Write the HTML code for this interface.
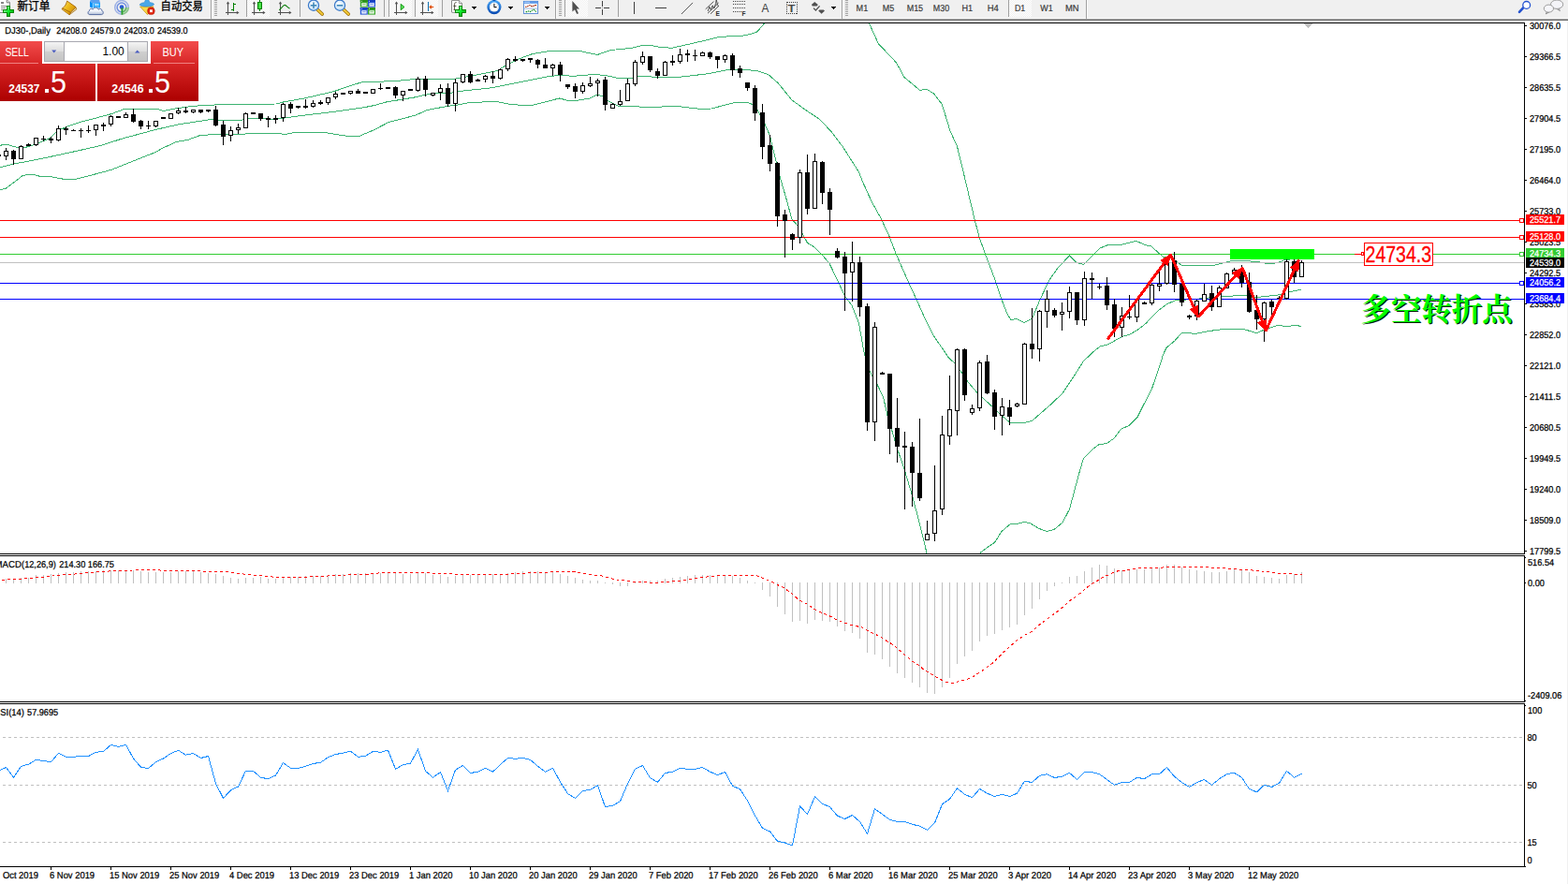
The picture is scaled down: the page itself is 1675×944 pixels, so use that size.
<!DOCTYPE html><html><head><meta charset="utf-8"><title>DJ30 Daily</title><style>html,body{margin:0;padding:0;background:#fff;overflow:hidden}svg{display:block}text{font-family:"Liberation Sans",sans-serif;white-space:pre}</style></head><body>
<svg width="1675" height="944" viewBox="0 0 1675 944" shape-rendering="crispEdges" font-family="Liberation Sans, sans-serif">
<rect x="0" y="0" width="1675" height="944" fill="#fff"/>
<defs><pattern id="chk" width="2" height="2" patternUnits="userSpaceOnUse"><rect width="2" height="2" fill="#fff"/><rect width="1" height="1" fill="#f0f0f0"/><rect x="1" y="1" width="1" height="1" fill="#f0f0f0"/></pattern><linearGradient id="gold" x1="0" y1="0" x2="1" y2="1"><stop offset="0" stop-color="#fff0a0"/><stop offset="0.5" stop-color="#e8b820"/><stop offset="1" stop-color="#b07000"/></linearGradient><linearGradient id="plus" x1="0" y1="0" x2="0" y2="1"><stop offset="0" stop-color="#70ff80"/><stop offset="0.5" stop-color="#10f030"/><stop offset="1" stop-color="#08b018"/></linearGradient><linearGradient id="plush" x1="0" y1="0" x2="1" y2="0"><stop offset="0" stop-color="#80ff90"/><stop offset="0.45" stop-color="#10f030"/><stop offset="1" stop-color="#08c018"/></linearGradient><radialGradient id="lens" cx="0.4" cy="0.35" r="0.7"><stop offset="0" stop-color="#ffffff"/><stop offset="1" stop-color="#b8dcf8"/></radialGradient><linearGradient id="clk" x1="0" y1="0" x2="0" y2="1"><stop offset="0" stop-color="#48a8f8"/><stop offset="1" stop-color="#0848b0"/></linearGradient></defs>
<rect x="0" y="0" width="1675" height="19" fill="#f0f0f0"/>
<rect x="0" y="19" width="1675" height="1" fill="#f8f8f8"/>
<rect x="0" y="20" width="1675" height="1" fill="#a8a8a8"/>
<rect x="0" y="21" width="1675" height="1" fill="#666"/>
<g shape-rendering="auto">
<path d="M-1,-1 H7.2 L10.4,2.8 V13.4 H-1 Z" fill="#fff" stroke="#6e6e6e" stroke-width="0.9"/>
<path d="M7.2,-1 V2.8 H10.4" fill="#f0f0f0" stroke="#6e6e6e" stroke-width="0.9"/>
<rect x="1" y="2" width="3" height="2" fill="#858585"/><rect x="1" y="6" width="6" height="1" fill="#8a8a8a"/><rect x="1" y="8" width="5" height="1" fill="#8a8a8a"/><rect x="1" y="10" width="3" height="1" fill="#8a8a8a"/>
</g>
<g shape-rendering="crispEdges">
<rect x="7" y="6" width="4" height="12" fill="#088808"/><rect x="3" y="10" width="12" height="4" fill="#088808"/>
<rect x="8" y="7" width="2" height="10" fill="url(#plus)"/><rect x="4" y="11" width="10" height="2" fill="url(#plush)"/>
</g>
<g shape-rendering="auto">
<text x="18.4" y="11.2" font-size="12" fill="#000" stroke="#000" stroke-width="0.3" textLength="35.2" lengthAdjust="spacingAndGlyphs" style="font-family:'Liberation Sans','Noto Sans CJK SC',sans-serif">新订单</text>
<defs><linearGradient id="gold2" x1="0" y1="0" x2="1" y2="0.6"><stop offset="0" stop-color="#fff8b8"/><stop offset="0.45" stop-color="#f0c020"/><stop offset="1" stop-color="#d89808"/></linearGradient><linearGradient id="cloud" x1="0" y1="0" x2="0" y2="1"><stop offset="0" stop-color="#ffffff"/><stop offset="0.5" stop-color="#f0f4fa"/><stop offset="1" stop-color="#aebcd4"/></linearGradient></defs>
<path d="M75.4,13.1 L81,7.6 L81.8,9.9 L74.1,15.8 Z" fill="#e8d8a0" stroke="#a06810" stroke-width="0.8"/>
<path d="M66.6,8.9 L75.4,13.1 L74.1,15.8 L66.1,9.9 Z" fill="url(#gold2)" stroke="#a86808" stroke-width="0.8"/>
<path d="M71.7,1.1 L81,7.6 L75.4,13.1 L66.6,8.9 C69,7.4 70.4,5.4 71.7,1.1 Z" fill="url(#gold2)" stroke="#a86808" stroke-width="0.9"/>
<path d="M96,1.3 L97.1,-0.5 H106 L107,3 L99.1,3.6 Z" fill="#5aa0f0"/>
<path d="M96,1.3 L99.1,3.6 V8.8 L96,7.6 Z" fill="#0490f8"/>
<path d="M99.1,3.6 L107,3 V8.6 H99.1 Z" fill="#1aa2ff"/>
<path d="M99.4,3.6 V8.8" stroke="#d8f0ff" stroke-width="0.7"/>
<rect x="101" y="4.3" width="4.6" height="1.3" fill="#e4f6ff"/><rect x="101" y="6.3" width="4.6" height="1.6" fill="#58bcff"/>
<path d="M95.8,15.6 C93.5,15.6 93.5,12 95.5,11.6 C95.3,9.3 98,8.6 99.2,10.2 C100,7.5 104.4,7.3 105.2,10.2 C106.4,8.8 109.3,9.4 108.9,11.6 C110.9,12 110.7,15.6 108.4,15.6 Z" fill="url(#cloud)" stroke="#48609a" stroke-width="0.9"/>
<defs><clipPath id="q4"><rect x="130" y="7.9" width="9" height="9"/></clipPath><clipPath id="q123"><path d="M120,-2 H140 V7.9 H130 V18 H120 Z"/></clipPath></defs>
<circle cx="130" cy="7.9" r="7.3" fill="none" stroke="#3a66d8" stroke-width="1.5" opacity="0.45" clip-path="url(#q123)"/>
<circle cx="130" cy="7.9" r="7.3" fill="none" stroke="#48a048" stroke-width="1.5" opacity="0.6" clip-path="url(#q4)"/>
<circle cx="130" cy="7.9" r="4.9" fill="none" stroke="#3a66d8" stroke-width="1.5" opacity="0.7" clip-path="url(#q123)"/>
<circle cx="130" cy="7.9" r="4.9" fill="none" stroke="#48a048" stroke-width="1.5" opacity="0.85" clip-path="url(#q4)"/>
<path d="M130,7.9 L137.3,7.9 A7.3,7.3 0 0 1 130,15.2 Z" fill="#70c070" opacity="0.35"/>
<circle cx="130" cy="7.6" r="2.3" fill="#2a5ad4"/>
<rect x="129.5" y="8.4" width="1.8" height="7.2" fill="#28a028"/>
<path d="M149.6,7 L164,7 L157.5,15.6 Z" fill="#f8d848" stroke="#c89810" stroke-width="0.8"/>
<path d="M149.2,5.2 C150,2.8 153.4,3.2 154.4,2.4 L155.6,-0.5 H158.6 L159.8,2.4 C161,3.2 164.2,2.6 164.6,4.8 C162,7.6 152,7.8 149.2,5.2 Z" fill="#4aa8e8" stroke="#2a80c8" stroke-width="0.6"/>
<circle cx="161.4" cy="11.7" r="3.9" fill="#e02810" stroke="#b01808" stroke-width="0.5"/><rect x="160" y="10.3" width="2.8" height="2.8" fill="#fff"/>
<text x="171.6" y="11.2" font-size="12" fill="#000" stroke="#000" stroke-width="0.3" textLength="45.2" lengthAdjust="spacingAndGlyphs" style="font-family:'Liberation Sans','Noto Sans CJK SC',sans-serif">自动交易</text>
</g>
<rect x="225" y="0" width="1" height="20" fill="#a0a0a0"/><rect x="226" y="0" width="1" height="19" fill="#fff"/>
<rect x="229" y="0" width="3" height="1" fill="#a4a4a4"/>
<rect x="229" y="2" width="3" height="1" fill="#a4a4a4"/>
<rect x="229" y="4" width="3" height="1" fill="#a4a4a4"/>
<rect x="229" y="6" width="3" height="1" fill="#a4a4a4"/>
<rect x="229" y="8" width="3" height="1" fill="#a4a4a4"/>
<rect x="229" y="10" width="3" height="1" fill="#a4a4a4"/>
<rect x="229" y="12" width="3" height="1" fill="#a4a4a4"/>
<rect x="229" y="14" width="3" height="1" fill="#a4a4a4"/>
<rect x="229" y="16" width="3" height="1" fill="#a4a4a4"/>
<rect x="263" y="0" width="1" height="18" fill="#a0a0a0"/>
<rect x="264" y="0" width="24" height="18" fill="url(#chk)"/>
<rect x="320" y="0" width="1" height="18" fill="#a0a0a0"/>
<rect x="410" y="0" width="1" height="18" fill="#a0a0a0"/>
<rect x="415" y="0" width="1" height="18" fill="#a0a0a0"/>
<rect x="416" y="0" width="24" height="18" fill="url(#chk)"/>
<rect x="443" y="0" width="1" height="18" fill="#a0a0a0"/>
<rect x="444" y="0" width="24" height="18" fill="url(#chk)"/>
<rect x="472" y="0" width="1" height="18" fill="#a0a0a0"/>
<rect x="593" y="0" width="1" height="20" fill="#a0a0a0"/><rect x="594" y="0" width="1" height="19" fill="#fff"/>
<rect x="597" y="0" width="3" height="1" fill="#a4a4a4"/>
<rect x="597" y="2" width="3" height="1" fill="#a4a4a4"/>
<rect x="597" y="4" width="3" height="1" fill="#a4a4a4"/>
<rect x="597" y="6" width="3" height="1" fill="#a4a4a4"/>
<rect x="597" y="8" width="3" height="1" fill="#a4a4a4"/>
<rect x="597" y="10" width="3" height="1" fill="#a4a4a4"/>
<rect x="597" y="12" width="3" height="1" fill="#a4a4a4"/>
<rect x="597" y="14" width="3" height="1" fill="#a4a4a4"/>
<rect x="597" y="16" width="3" height="1" fill="#a4a4a4"/>
<rect x="603" y="0" width="1" height="18" fill="#a0a0a0"/>
<rect x="604" y="0" width="24" height="18" fill="url(#chk)"/>
<rect x="660" y="0" width="1" height="18" fill="#a0a0a0"/>
<rect x="899" y="0" width="1" height="20" fill="#a0a0a0"/><rect x="900" y="0" width="1" height="19" fill="#fff"/>
<rect x="903" y="0" width="3" height="1" fill="#a4a4a4"/>
<rect x="903" y="2" width="3" height="1" fill="#a4a4a4"/>
<rect x="903" y="4" width="3" height="1" fill="#a4a4a4"/>
<rect x="903" y="6" width="3" height="1" fill="#a4a4a4"/>
<rect x="903" y="8" width="3" height="1" fill="#a4a4a4"/>
<rect x="903" y="10" width="3" height="1" fill="#a4a4a4"/>
<rect x="903" y="12" width="3" height="1" fill="#a4a4a4"/>
<rect x="903" y="14" width="3" height="1" fill="#a4a4a4"/>
<rect x="903" y="16" width="3" height="1" fill="#a4a4a4"/>
<rect x="1077" y="0" width="1" height="18" fill="#a0a0a0"/>
<rect x="1078" y="0" width="24" height="18" fill="url(#chk)"/>
<rect x="1160" y="0" width="1" height="20" fill="#a0a0a0"/><rect x="1161" y="0" width="1" height="19" fill="#fff"/>
<rect x="243" y="3" width="1" height="13" fill="#505050"/><rect x="241" y="13" width="13" height="1" fill="#505050"/>
<polygon points="243.5,1.5 241.8,4.2 245.2,4.2" fill="#505050" shape-rendering="auto"/>
<polygon points="255.5,13.5 252.8,11.8 252.8,15.2" fill="#505050" shape-rendering="auto"/>
<rect x="249" y="3" width="1" height="9" fill="#008000"/><rect x="249" y="4" width="3" height="1" fill="#008000"/><rect x="247" y="10" width="3" height="1" fill="#008000"/>
<rect x="271" y="3" width="1" height="13" fill="#505050"/><rect x="269" y="13" width="13" height="1" fill="#505050"/>
<polygon points="271.5,1.5 269.8,4.2 273.2,4.2" fill="#505050" shape-rendering="auto"/>
<polygon points="283.5,13.5 280.8,11.8 280.8,15.2" fill="#505050" shape-rendering="auto"/>
<rect x="277" y="0" width="1" height="12" fill="#008000"/><rect x="275.5" y="2.5" width="4" height="7" fill="#48e048" stroke="#008000" stroke-width="1" shape-rendering="auto"/>
<rect x="299" y="3" width="1" height="13" fill="#505050"/><rect x="297" y="13" width="13" height="1" fill="#505050"/>
<polygon points="299.5,1.5 297.8,4.2 301.2,4.2" fill="#505050" shape-rendering="auto"/>
<polygon points="311.5,13.5 308.8,11.8 308.8,15.2" fill="#505050" shape-rendering="auto"/>
<path d="M298.3,10.7 C301,8.5 302.5,5.2 304.2,5.4 C306,5.6 307.5,8.5 309.6,9" fill="none" stroke="#108010" stroke-width="1.1" shape-rendering="auto"/>
<g shape-rendering="auto">
<path d="M338.6,9.7 L344.2,15" stroke="#9a6a00" stroke-width="3.6" stroke-linecap="round"/>
<path d="M338.6,9.7 L344.2,15" stroke="#f0c838" stroke-width="2.2" stroke-linecap="round"/>
<circle cx="335" cy="5.7" r="5.6" fill="url(#lens)" stroke="#3a78c8" stroke-width="1.2"/>
<rect x="331.8" y="5" width="6.4" height="1.6" fill="#4088b8"/>
<rect x="334.2" y="2.5" width="1.6" height="6.4" fill="#4088b8"/>
</g>
<g shape-rendering="auto">
<path d="M366.6,9.7 L372.2,15" stroke="#9a6a00" stroke-width="3.6" stroke-linecap="round"/>
<path d="M366.6,9.7 L372.2,15" stroke="#f0c838" stroke-width="2.2" stroke-linecap="round"/>
<circle cx="363" cy="5.7" r="5.6" fill="url(#lens)" stroke="#3a78c8" stroke-width="1.2"/>
<rect x="359.8" y="5" width="6.4" height="1.6" fill="#4088b8"/>
</g>
<g shape-rendering="auto">
<rect x="384.8" y="0" width="8" height="7.6" fill="#38a828"/><rect x="384.8" y="0" width="8" height="2" fill="#2a9018"/>
<rect x="386.2" y="3.2" width="5.4" height="3.4" fill="#fff" opacity="0.92"/><rect x="387.2" y="4.2" width="3.4" height="0.9" fill="#38a828" opacity="0.6"/><rect x="385.8" y="0.8" width="1" height="1" fill="#fff" opacity="0.8"/>
<rect x="393" y="0" width="8" height="7.6" fill="#2858d8"/><rect x="393" y="0" width="8" height="2" fill="#1840c0"/>
<rect x="394.4" y="3.2" width="5.4" height="3.4" fill="#fff" opacity="0.92"/><rect x="395.4" y="4.2" width="3.4" height="0.9" fill="#2858d8" opacity="0.6"/><rect x="394" y="0.8" width="1" height="1" fill="#fff" opacity="0.8"/>
<rect x="384.8" y="8" width="8" height="7.6" fill="#2858d8"/><rect x="384.8" y="8" width="8" height="2" fill="#1840c0"/>
<rect x="386.2" y="11.2" width="5.4" height="3.4" fill="#fff" opacity="0.92"/><rect x="387.2" y="12.2" width="3.4" height="0.9" fill="#2858d8" opacity="0.6"/><rect x="385.8" y="8.8" width="1" height="1" fill="#fff" opacity="0.8"/>
<rect x="393" y="8" width="8" height="7.6" fill="#38a828"/><rect x="393" y="8" width="8" height="2" fill="#2a9018"/>
<rect x="394.4" y="11.2" width="5.4" height="3.4" fill="#fff" opacity="0.92"/><rect x="395.4" y="12.2" width="3.4" height="0.9" fill="#38a828" opacity="0.6"/><rect x="394" y="8.8" width="1" height="1" fill="#fff" opacity="0.8"/>
</g>
<rect x="423" y="3" width="1" height="13" fill="#505050"/><rect x="421" y="13" width="13" height="1" fill="#505050"/>
<polygon points="423.5,1.5 421.8,4.2 425.2,4.2" fill="#505050" shape-rendering="auto"/>
<polygon points="435.5,13.5 432.8,11.8 432.8,15.2" fill="#505050" shape-rendering="auto"/>
<polygon points="428.2,4.3 432,7.5 428.2,10.7" fill="#58e058" stroke="#089008" stroke-width="0.9" shape-rendering="auto"/>
<rect x="451" y="3" width="1" height="13" fill="#505050"/><rect x="449" y="13" width="13" height="1" fill="#505050"/>
<polygon points="451.5,1.5 449.8,4.2 453.2,4.2" fill="#505050" shape-rendering="auto"/>
<polygon points="463.5,13.5 460.8,11.8 460.8,15.2" fill="#505050" shape-rendering="auto"/>
<rect x="457" y="2" width="1" height="10" fill="#1070b0"/>
<g shape-rendering="auto"><rect x="459" y="7" width="4.2" height="1" fill="#e04800"/><polygon points="458.2,7.5 461,5.2 461,9.8" fill="#e04800"/></g>
<g shape-rendering="auto">
<path d="M483,0.4 H490.4 L493.5,3.5 V13.3 H483 Q482.5,13.3 482.5,12.8 V0.9 Q482.5,0.4 483,0.4 Z" fill="#fff" stroke="#7c7c7c" stroke-width="0.9"/><path d="M490.4,0.4 V3.5 H493.5" fill="#f4f4f4" stroke="#7c7c7c" stroke-width="0.8"/>
<path d="M487.6,2.6 C486,2.7 485.4,3.4 485.4,4.6 V10.6 M484.4,6.4 H487.4 M484.6,10.6 H486" fill="none" stroke="#454030" stroke-width="0.9"/>
<g shape-rendering="crispEdges">
<rect x="490" y="6" width="4" height="12" fill="#088808"/><rect x="486" y="10" width="12" height="4" fill="#088808"/>
<rect x="491" y="7" width="2" height="10" fill="url(#plus)"/><rect x="487" y="11" width="10" height="2" fill="url(#plush)"/>
</g>
</g>
<rect x="504" y="7" width="5" height="1" fill="#000"/><rect x="505" y="8" width="3" height="1" fill="#000"/><rect x="506" y="9" width="1" height="1" fill="#000"/>
<g shape-rendering="auto">
<circle cx="527.9" cy="7.6" r="7.6" fill="url(#clk)"/><rect x="526.4" y="-1" width="3" height="2" fill="#1058b8"/>
<circle cx="527.9" cy="7.6" r="5" fill="#fff"/>
<path d="M527.9,7.8 V4 M527.7,7.6 H530.6" stroke="#202020" stroke-width="1.1" fill="none"/>
<circle cx="527.90" cy="3.30" r="0.35" fill="#888"/>
<circle cx="530.05" cy="3.88" r="0.35" fill="#888"/>
<circle cx="531.62" cy="5.45" r="0.35" fill="#888"/>
<circle cx="532.20" cy="7.60" r="0.35" fill="#888"/>
<circle cx="531.62" cy="9.75" r="0.35" fill="#888"/>
<circle cx="530.05" cy="11.32" r="0.35" fill="#888"/>
<circle cx="527.90" cy="11.90" r="0.35" fill="#888"/>
<circle cx="525.75" cy="11.32" r="0.35" fill="#888"/>
<circle cx="524.18" cy="9.75" r="0.35" fill="#888"/>
<circle cx="523.60" cy="7.60" r="0.35" fill="#888"/>
<circle cx="524.18" cy="5.45" r="0.35" fill="#888"/>
<circle cx="525.75" cy="3.88" r="0.35" fill="#888"/>
</g>
<rect x="543" y="7" width="5" height="1" fill="#000"/><rect x="544" y="8" width="3" height="1" fill="#000"/><rect x="545" y="9" width="1" height="1" fill="#000"/>
<g shape-rendering="auto">
<rect x="559.4" y="1.4" width="15.2" height="13" fill="#fff" stroke="#4a80d0" stroke-width="0.9"/><rect x="559.4" y="1.4" width="15.2" height="2.4" fill="#5c98e8"/><rect x="560" y="1.8" width="6" height="0.8" fill="#c8e0ff"/>
<rect x="559.4" y="8.7" width="15.2" height="0.8" fill="#88a8d8"/>
<path d="M561,7.2 H563.2 L564.8,5.8 H566.6 L567.6,6.6 H569.6 L571,5.6 H573" fill="none" stroke="#a02000" stroke-width="1.1" stroke-dasharray="1.6 0.7"/>
<path d="M561.6,12.6 H563.4 L564.8,11.8 L566.4,12.6 L569.4,10.4 H570.4 L573,12.8" fill="none" stroke="#109020" stroke-width="1.1" stroke-dasharray="1.6 0.7"/>
</g>
<rect x="582" y="7" width="5" height="1" fill="#000"/><rect x="583" y="8" width="3" height="1" fill="#000"/><rect x="584" y="9" width="1" height="1" fill="#000"/>
<path d="M611.4,1 V12.6 L614,10.2 L616.2,15 L618,14.2 L615.8,9.6 L619,9.4 Z" fill="#505050" shape-rendering="auto"/>
<rect x="643" y="1" width="1" height="6" fill="#404040"/><rect x="643" y="10" width="1" height="6" fill="#404040"/><rect x="636" y="8" width="6" height="1" fill="#404040"/><rect x="645" y="8" width="6" height="1" fill="#404040"/><rect x="643" y="8" width="1" height="1" fill="#909090"/>
<rect x="677" y="2" width="1" height="13" fill="#404040"/>
<rect x="700" y="8" width="12" height="1" fill="#404040"/>
<g shape-rendering="auto" stroke="#404040" fill="none">
<path d="M727.9,15 L740,2.9" stroke-width="0.9"/>
<path d="M753.7,9.8 L762.4,1.6 M756,14.2 L767.6,3 M759,14.8 L768,6.2" stroke-width="0.9"/>
<path d="M756.2,12 L757.8,7.2 L759.4,10.6 L761.2,5.8 L762.8,9 L764.6,3.6 L765.2,-0.5 L766.4,4.6 L767.4,6.8" stroke-width="0.9"/>
</g>
<text x="764.6" y="16.8" font-size="6.6" font-weight="bold" fill="#303030">E</text>
<line x1="783" y1="1.5" x2="796.4" y2="1.5" stroke="#404040" stroke-width="1" stroke-dasharray="1 1"/>
<line x1="783" y1="4.5" x2="796.4" y2="4.5" stroke="#404040" stroke-width="1" stroke-dasharray="1 1"/>
<line x1="783" y1="8.5" x2="796.4" y2="8.5" stroke="#404040" stroke-width="1" stroke-dasharray="1 1"/>
<line x1="783" y1="12.5" x2="792.4" y2="12.5" stroke="#404040" stroke-width="1" stroke-dasharray="1 1"/>
<text x="792.6" y="16.8" font-size="6.6" font-weight="bold" fill="#303030">F</text>
<text x="813.6" y="13.3" font-size="13" fill="#404040" textLength="7.9" lengthAdjust="spacingAndGlyphs">A</text>
<rect x="840.5" y="2.5" width="11" height="12" fill="none" stroke="#404040" stroke-width="1" stroke-dasharray="1 1"/>
<rect x="839.5" y="1.5" width="2" height="1.4" fill="#404040"/>
<text x="841.6" y="13.3" font-size="11.4" font-weight="bold" fill="#484848" textLength="8" lengthAdjust="spacingAndGlyphs">T</text>
<g shape-rendering="auto" fill="#505050">
<polygon points="870.2,2 873.8,5 872.6,6.4 867.9,6.4 866.9,5"/>
<path d="M869,8.6 L871.4,11 L875.6,6.4" fill="none" stroke="#505050" stroke-width="1.3"/>
<polygon points="877.6,14.8 881,11.6 879.8,10.6 875.4,10.6 874.2,11.6"/>
</g>
<rect x="888" y="7" width="5" height="1" fill="#000"/><rect x="889" y="8" width="3" height="1" fill="#000"/><rect x="890" y="9" width="1" height="1" fill="#000"/>
<text x="914.6" y="12" font-size="10" fill="#383838" stroke="#383838" stroke-width="0.2" text-rendering="geometricPrecision" textLength="12.6" lengthAdjust="spacingAndGlyphs">M1</text>
<text x="942.8" y="12" font-size="10" fill="#383838" stroke="#383838" stroke-width="0.2" text-rendering="geometricPrecision" textLength="12.4" lengthAdjust="spacingAndGlyphs">M5</text>
<text x="968.7" y="12" font-size="10" fill="#383838" stroke="#383838" stroke-width="0.2" text-rendering="geometricPrecision" textLength="17.4" lengthAdjust="spacingAndGlyphs">M15</text>
<text x="996.8" y="12" font-size="10" fill="#383838" stroke="#383838" stroke-width="0.2" text-rendering="geometricPrecision" textLength="17.3" lengthAdjust="spacingAndGlyphs">M30</text>
<text x="1027.5" y="12" font-size="10" fill="#383838" stroke="#383838" stroke-width="0.2" text-rendering="geometricPrecision" textLength="11.7" lengthAdjust="spacingAndGlyphs">H1</text>
<text x="1054.7" y="12" font-size="10" fill="#383838" stroke="#383838" stroke-width="0.2" text-rendering="geometricPrecision" textLength="12.1" lengthAdjust="spacingAndGlyphs">H4</text>
<text x="1083.9" y="12" font-size="10" fill="#383838" stroke="#383838" stroke-width="0.2" text-rendering="geometricPrecision" textLength="11.3" lengthAdjust="spacingAndGlyphs">D1</text>
<text x="1111.3" y="12" font-size="10" fill="#383838" stroke="#383838" stroke-width="0.2" text-rendering="geometricPrecision" textLength="13.4" lengthAdjust="spacingAndGlyphs">W1</text>
<text x="1137.9" y="12" font-size="10" fill="#383838" stroke="#383838" stroke-width="0.2" text-rendering="geometricPrecision" textLength="14.6" lengthAdjust="spacingAndGlyphs">MN</text>
<g shape-rendering="auto">
<path d="M1627.4,8.2 L1623,12.9" stroke="#2452d0" stroke-width="2.6" stroke-linecap="round"/>
<circle cx="1630.7" cy="5.4" r="3.9" fill="#fff" stroke="#2452d0" stroke-width="1.3"/>
<path d="M1665.4,9 L1666.4,11.6 L1662.6,9.2" fill="#e8e8f0" stroke="#808080" stroke-width="0.8"/>
<ellipse cx="1663.1" cy="4.7" rx="6.6" ry="4.7" fill="#f4f4f8" stroke="#909090" stroke-width="0.9"/>
<path d="M1652.6,12.4 L1651.4,14.8 L1655,12.9" fill="#e8e8f0" stroke="#707070" stroke-width="0.8"/>
<ellipse cx="1654.4" cy="9.1" rx="5.1" ry="4" fill="#f6f6fa" stroke="#909090" stroke-width="0.9"/>
</g>
<rect x="0" y="24" width="1629" height="1" fill="#000"/>
<rect x="1628" y="24" width="1" height="568" fill="#000"/>
<rect x="0" y="591" width="1629" height="1" fill="#000"/>
<rect x="0" y="593" width="1629" height="1" fill="#000"/>
<rect x="1628" y="593" width="1" height="157" fill="#000"/>
<rect x="0" y="749" width="1629" height="1" fill="#000"/>
<rect x="0" y="751" width="1629" height="1" fill="#000"/>
<rect x="1628" y="751" width="1" height="175" fill="#000"/>
<rect x="0" y="925" width="1630" height="1" fill="#000"/>
<rect x="1674" y="22" width="1" height="922" fill="#f0f0f0"/>
<rect x="1393" y="25" width="9" height="1" fill="#c0c0c0"/>
<rect x="1394" y="26" width="7" height="1" fill="#c0c0c0"/>
<rect x="1395" y="27" width="5" height="1" fill="#c0c0c0"/>
<rect x="1396" y="28" width="3" height="1" fill="#c0c0c0"/>
<rect x="1397" y="29" width="1" height="1" fill="#c0c0c0"/>
<g clip-path="url(#cm)">
<defs><clipPath id="cm"><rect x="0" y="25" width="1628" height="566"/></clipPath></defs>
<polyline points="0,155.2 7.2,154.3 17.9,157.3 27.5,157.3 39.4,153.7 53.7,147.2 62.1,139.4 71.6,135.2 83.6,131 101.5,126.3 119.4,121.5 133.7,116.1 167.2,116.1 174.3,118.5 186.3,116.1 200,114.1 212.5,112.9 230.6,111.9 250,111.3 262.5,111.3 295,111 302.5,109 325,105 356.3,97.8 375,91.3 387.5,87.5 400,87.5 425,86.3 443.8,84.4 481.3,85 495,82.5 512.5,79.4 531.3,75.6 540,70 553.8,63.1 568.8,57.5 587.5,54.4 600,54.4 618.8,54.4 638.1,58.5 652.5,53.5 675,51.3 686.3,48.5 696.3,48.5 702.5,50 717.5,51.3 737.5,46.9 768.8,39.4 793.8,38.1 805,35.6 809,33.8 816.5,25" fill="none" stroke="#3cb371" stroke-width="1" />
<polyline points="928.5,25 938.3,46.6 951,60 957.5,66.9 966,82.5 982.5,96.3 990,95.3 997.5,100 1006.3,111.3 1015,140 1022.5,156.3 1030,187.5 1041.3,235 1046.3,253.8 1052.5,271.3 1062.5,297.5 1070,320 1076.3,336 1080,341.6 1086,340.3 1094,344.4 1102.5,340.3 1111,320 1121,298.8 1130,286.3 1142.5,272.8 1150,280.6 1157.5,282.3 1165,275 1175,265 1182.5,262 1198.8,261 1213.8,257.3 1222.5,261.3 1230,263.1 1237.5,270 1242.5,274.4 1252.5,276.3 1262.5,283.5 1296,283.5 1315,278.8 1327.5,278.1 1346,280 1355,281.9 1365,280.6 1372.5,277.5 1390,276" fill="none" stroke="#3cb371" stroke-width="1" />
<polyline points="0,178.8 14.3,175.2 47.8,168.7 83.6,160.9 107.5,155.5 131.3,147.8 167.2,138.2 191,132.8 200,131.5 225,127.5 237.5,128.4 258.8,128.1 267.5,126.5 295,127.3 306.3,125.6 325,123.1 356.3,119.4 387.5,115 400,112.5 412.5,109 443.8,103.8 462.5,99.4 481.3,99.4 490,97.5 525,93.8 556.3,87.5 587.5,81.3 600,80.4 612.5,81.3 635,79.4 647.5,80.6 660,83.5 671.3,83.8 685,81.3 700,82.3 725,82.3 756.3,78.8 775,75 793.8,74 800,74.8 810,76 821,79.8 831,88.5 846,106.9 862.5,118.8 875,126.9 887.5,140 900,156.3 907.5,168 917.5,183.8 922.5,196.3 931,215 941,233 950,252.5 957.5,271.9 971,302.5 978.8,319.4 988,340 997.5,358.8 1013.8,382.5 1019.4,387.5 1027.5,398.1 1033.8,407.5 1043.8,419.4 1058.8,433.1 1067.5,441.3 1078.8,451.3 1093.8,451.5 1102.5,449.4 1122.5,431.9 1135,420 1147.5,401.3 1157.5,385.6 1170,373.8 1176,369.4 1182.5,368.5 1198.8,359.4 1206,357.5 1215,352.5 1223.8,345.6 1236.2,332.5 1246.2,325 1255,321 1267.5,320 1283.8,318.8 1307.5,316.3 1331,315.6 1342.5,317.5 1365,315 1377.5,311.9 1390,309" fill="none" stroke="#3cb371" stroke-width="1" />
<polyline points="0,202.7 6,201.5 23.9,187.8 29.9,186.2 34.6,186.2 43,188.4 56.1,189 68.1,191.3 81.2,191.3 101.5,186 119.4,181.2 143.3,171.6 167.2,162.1 173.1,158.5 188.7,151.3 200,149.6 212.5,145 231.3,143.1 256.3,143.8 267.5,142.3 296.3,142.3 303.8,143.5 315,141.5 346.3,141.5 371.3,145.4 383.8,145.4 400,138.5 415,130.6 443.8,123.1 456.3,117.5 477.5,113.5 490,111.9 502.5,109.4 530,108.5 547.5,111.9 568.8,112.3 597.5,105 600,105.6 606.3,107.3 616.3,107.3 630,105 637.5,101.3 643.8,102.5 650,108.1 660,113.1 681.3,113.5 686.3,114.8 703.8,114.8 708.8,113.5 720,113.1 747.5,116.3 760,116 785,109.4 795,109.4 800,110 803.8,111.5 808.8,116.9 816,130 822.5,145 825.6,158.8 829.4,173.8 832.5,186.3 840,212.5 846,234.4 852.5,241.3 857.5,250 862.5,259.4 870,263.8 877.5,271.3 886,281.3 895,300 902.5,316.3 910,326.3 917.5,345 923,376.3 929.4,396.9 932,401.9 937.5,411.3 943.8,425 948,443.8 952.5,458.8 958.8,480 966,501 973.8,527 980,550 985,570 990,590.6" fill="none" stroke="#3cb371" stroke-width="1" />
<polyline points="1046.9,590.6 1055,584.4 1062.5,579.4 1070,567.5 1078.8,560 1086,559.4 1094,557.5 1100,558.5 1110,564.4 1118,567.5 1126,565.6 1135,558 1142.5,543.8 1147.5,525 1152.5,506.3 1157.5,489.4 1167.5,479.4 1173.8,474.8 1182.5,473.5 1190,468.1 1197.5,458.1 1206.2,454.4 1215,445.6 1221.2,433.1 1230,416.3 1237.5,395 1242.5,378.8 1246,371.3 1255,363.8 1262.5,355.3 1277.5,356.3 1290,353.8 1307.5,351.3 1327.5,351.3 1342.5,355.6 1352.5,351.3 1365,347.5 1375,348.5 1383.8,347.3 1390,348.5" fill="none" stroke="#3cb371" stroke-width="1" />
<rect x="0" y="280" width="1628" height="1" fill="#c0c0c0"/>
<rect x="0" y="235" width="1628" height="1" fill="#f00"/>
<rect x="1623.5" y="233.5" width="4" height="4" fill="#fff" stroke="#f00" stroke-width="1"/>
<rect x="0" y="253" width="1628" height="1" fill="#f00"/>
<rect x="1623.5" y="251.5" width="4" height="4" fill="#fff" stroke="#f00" stroke-width="1"/>
<rect x="0" y="271" width="1628" height="1" fill="#32cd32"/>
<rect x="1623.5" y="269.5" width="4" height="4" fill="#fff" stroke="#32cd32" stroke-width="1"/>
<rect x="0" y="302" width="1628" height="1" fill="#00f"/>
<rect x="1623.5" y="300.5" width="4" height="4" fill="#fff" stroke="#00f" stroke-width="1"/>
<rect x="0" y="319" width="1628" height="1" fill="#00f"/>
<rect x="-2" y="165" width="1" height="2" fill="#000"/>
<rect x="-4" y="165" width="5" height="2" fill="#000"/>
<rect x="6" y="158" width="1" height="13" fill="#000"/>
<rect x="4" y="161" width="5" height="6" fill="#000"/>
<rect x="5" y="162" width="3" height="4" fill="#fff"/>
<rect x="14" y="160" width="1" height="16" fill="#000"/>
<rect x="12" y="161" width="5" height="9" fill="#000"/>
<rect x="22" y="155" width="1" height="15" fill="#000"/>
<rect x="20" y="156" width="5" height="14" fill="#000"/>
<rect x="21" y="157" width="3" height="12" fill="#fff"/>
<rect x="30" y="153" width="1" height="3" fill="#000"/>
<rect x="28" y="154" width="5" height="2" fill="#000"/>
<rect x="38" y="147" width="1" height="9" fill="#000"/>
<rect x="36" y="147" width="5" height="8" fill="#000"/>
<rect x="37" y="148" width="3" height="6" fill="#fff"/>
<rect x="46" y="145" width="1" height="6" fill="#000"/>
<rect x="44" y="148" width="5" height="1" fill="#000"/>
<rect x="54" y="146" width="1" height="7" fill="#000"/>
<rect x="52" y="148" width="5" height="2" fill="#000"/>
<rect x="62" y="134" width="1" height="17" fill="#000"/>
<rect x="60" y="137" width="5" height="13" fill="#000"/>
<rect x="61" y="138" width="3" height="11" fill="#fff"/>
<rect x="70" y="135" width="1" height="9" fill="#000"/>
<rect x="68" y="137" width="5" height="2" fill="#000"/>
<rect x="78" y="138" width="1" height="2" fill="#000"/>
<rect x="76" y="139" width="5" height="1" fill="#000"/>
<rect x="86" y="137" width="1" height="10" fill="#000"/>
<rect x="84" y="139" width="5" height="1" fill="#000"/>
<rect x="94" y="134" width="1" height="8" fill="#000"/>
<rect x="92" y="139" width="5" height="1" fill="#000"/>
<rect x="102" y="133" width="1" height="12" fill="#000"/>
<rect x="100" y="133" width="5" height="6" fill="#000"/>
<rect x="101" y="134" width="3" height="4" fill="#fff"/>
<rect x="110" y="131" width="1" height="9" fill="#000"/>
<rect x="108" y="133" width="5" height="2" fill="#000"/>
<rect x="118" y="123" width="1" height="12" fill="#000"/>
<rect x="116" y="124" width="5" height="9" fill="#000"/>
<rect x="117" y="125" width="3" height="7" fill="#fff"/>
<rect x="126" y="124" width="1" height="2" fill="#000"/>
<rect x="124" y="124" width="5" height="2" fill="#000"/>
<rect x="134" y="120" width="1" height="6" fill="#000"/>
<rect x="132" y="122" width="5" height="4" fill="#000"/>
<rect x="133" y="123" width="3" height="2" fill="#fff"/>
<rect x="142" y="116" width="1" height="15" fill="#000"/>
<rect x="140" y="122" width="5" height="8" fill="#000"/>
<rect x="150" y="128" width="1" height="10" fill="#000"/>
<rect x="148" y="129" width="5" height="6" fill="#000"/>
<rect x="158" y="129" width="1" height="9" fill="#000"/>
<rect x="156" y="134" width="5" height="1" fill="#000"/>
<rect x="166" y="129" width="1" height="7" fill="#000"/>
<rect x="164" y="129" width="5" height="6" fill="#000"/>
<rect x="165" y="130" width="3" height="4" fill="#fff"/>
<rect x="174" y="125" width="1" height="2" fill="#000"/>
<rect x="172" y="125" width="5" height="2" fill="#000"/>
<rect x="182" y="121" width="1" height="6" fill="#000"/>
<rect x="180" y="121" width="5" height="6" fill="#000"/>
<rect x="181" y="122" width="3" height="4" fill="#fff"/>
<rect x="190" y="115" width="1" height="7" fill="#000"/>
<rect x="188" y="118" width="5" height="3" fill="#000"/>
<rect x="189" y="119" width="3" height="1" fill="#fff"/>
<rect x="198" y="114" width="1" height="7" fill="#000"/>
<rect x="196" y="118" width="5" height="2" fill="#000"/>
<rect x="206" y="117" width="1" height="4" fill="#000"/>
<rect x="204" y="117" width="5" height="3" fill="#000"/>
<rect x="205" y="118" width="3" height="1" fill="#fff"/>
<rect x="214" y="117" width="1" height="4" fill="#000"/>
<rect x="212" y="117" width="5" height="3" fill="#000"/>
<rect x="222" y="117" width="1" height="3" fill="#000"/>
<rect x="220" y="117" width="5" height="2" fill="#000"/>
<rect x="230" y="113" width="1" height="22" fill="#000"/>
<rect x="228" y="117" width="5" height="17" fill="#000"/>
<rect x="238" y="129" width="1" height="26" fill="#000"/>
<rect x="236" y="133" width="5" height="13" fill="#000"/>
<rect x="246" y="135" width="1" height="16" fill="#000"/>
<rect x="244" y="139" width="5" height="6" fill="#000"/>
<rect x="245" y="140" width="3" height="4" fill="#fff"/>
<rect x="254" y="132" width="1" height="11" fill="#000"/>
<rect x="252" y="136" width="5" height="3" fill="#000"/>
<rect x="253" y="137" width="3" height="1" fill="#fff"/>
<rect x="262" y="120" width="1" height="17" fill="#000"/>
<rect x="260" y="121" width="5" height="16" fill="#000"/>
<rect x="261" y="122" width="3" height="14" fill="#fff"/>
<rect x="270" y="120" width="1" height="2" fill="#000"/>
<rect x="268" y="120" width="5" height="2" fill="#000"/>
<rect x="278" y="121" width="1" height="8" fill="#000"/>
<rect x="276" y="121" width="5" height="6" fill="#000"/>
<rect x="286" y="124" width="1" height="12" fill="#000"/>
<rect x="284" y="126" width="5" height="2" fill="#000"/>
<rect x="294" y="123" width="1" height="9" fill="#000"/>
<rect x="292" y="126" width="5" height="2" fill="#000"/>
<rect x="302" y="110" width="1" height="20" fill="#000"/>
<rect x="300" y="111" width="5" height="15" fill="#000"/>
<rect x="301" y="112" width="3" height="13" fill="#fff"/>
<rect x="310" y="109" width="1" height="12" fill="#000"/>
<rect x="308" y="111" width="5" height="5" fill="#000"/>
<rect x="318" y="113" width="1" height="3" fill="#000"/>
<rect x="316" y="113" width="5" height="2" fill="#000"/>
<rect x="326" y="106" width="1" height="10" fill="#000"/>
<rect x="324" y="113" width="5" height="2" fill="#000"/>
<rect x="334" y="107" width="1" height="8" fill="#000"/>
<rect x="332" y="110" width="5" height="4" fill="#000"/>
<rect x="333" y="111" width="3" height="2" fill="#fff"/>
<rect x="342" y="107" width="1" height="5" fill="#000"/>
<rect x="340" y="109" width="5" height="2" fill="#000"/>
<rect x="350" y="104" width="1" height="8" fill="#000"/>
<rect x="348" y="104" width="5" height="6" fill="#000"/>
<rect x="349" y="105" width="3" height="4" fill="#fff"/>
<rect x="358" y="98" width="1" height="8" fill="#000"/>
<rect x="356" y="100" width="5" height="4" fill="#000"/>
<rect x="357" y="101" width="3" height="2" fill="#fff"/>
<rect x="366" y="99" width="1" height="2" fill="#000"/>
<rect x="364" y="99" width="5" height="2" fill="#000"/>
<rect x="374" y="97" width="1" height="4" fill="#000"/>
<rect x="372" y="97" width="5" height="3" fill="#000"/>
<rect x="373" y="98" width="3" height="1" fill="#fff"/>
<rect x="382" y="95" width="1" height="5" fill="#000"/>
<rect x="380" y="97" width="5" height="3" fill="#000"/>
<rect x="390" y="98" width="1" height="2" fill="#000"/>
<rect x="388" y="98" width="5" height="2" fill="#000"/>
<rect x="398" y="95" width="1" height="5" fill="#000"/>
<rect x="396" y="95" width="5" height="5" fill="#000"/>
<rect x="397" y="96" width="3" height="3" fill="#fff"/>
<rect x="406" y="89" width="1" height="7" fill="#000"/>
<rect x="404" y="94" width="5" height="1" fill="#000"/>
<rect x="414" y="93" width="1" height="2" fill="#000"/>
<rect x="412" y="93" width="5" height="2" fill="#000"/>
<rect x="422" y="92" width="1" height="13" fill="#000"/>
<rect x="420" y="93" width="5" height="9" fill="#000"/>
<rect x="430" y="97" width="1" height="11" fill="#000"/>
<rect x="428" y="97" width="5" height="5" fill="#000"/>
<rect x="429" y="98" width="3" height="3" fill="#fff"/>
<rect x="438" y="95" width="1" height="2" fill="#000"/>
<rect x="436" y="95" width="5" height="2" fill="#000"/>
<rect x="446" y="82" width="1" height="16" fill="#000"/>
<rect x="444" y="84" width="5" height="13" fill="#000"/>
<rect x="445" y="85" width="3" height="11" fill="#fff"/>
<rect x="454" y="81" width="1" height="22" fill="#000"/>
<rect x="452" y="84" width="5" height="12" fill="#000"/>
<rect x="462" y="99" width="1" height="4" fill="#000"/>
<rect x="460" y="99" width="5" height="3" fill="#000"/>
<rect x="461" y="100" width="3" height="1" fill="#fff"/>
<rect x="470" y="90" width="1" height="17" fill="#000"/>
<rect x="468" y="94" width="5" height="5" fill="#000"/>
<rect x="469" y="95" width="3" height="3" fill="#fff"/>
<rect x="478" y="89" width="1" height="25" fill="#000"/>
<rect x="476" y="94" width="5" height="17" fill="#000"/>
<rect x="486" y="84" width="1" height="35" fill="#000"/>
<rect x="484" y="88" width="5" height="23" fill="#000"/>
<rect x="485" y="89" width="3" height="21" fill="#fff"/>
<rect x="494" y="79" width="1" height="10" fill="#000"/>
<rect x="492" y="79" width="5" height="9" fill="#000"/>
<rect x="493" y="80" width="3" height="7" fill="#fff"/>
<rect x="502" y="76" width="1" height="13" fill="#000"/>
<rect x="500" y="79" width="5" height="9" fill="#000"/>
<rect x="510" y="84" width="1" height="3" fill="#000"/>
<rect x="508" y="85" width="5" height="2" fill="#000"/>
<rect x="518" y="80" width="1" height="8" fill="#000"/>
<rect x="516" y="81" width="5" height="4" fill="#000"/>
<rect x="517" y="82" width="3" height="2" fill="#fff"/>
<rect x="526" y="76" width="1" height="13" fill="#000"/>
<rect x="524" y="81" width="5" height="3" fill="#000"/>
<rect x="534" y="73" width="1" height="12" fill="#000"/>
<rect x="532" y="74" width="5" height="10" fill="#000"/>
<rect x="533" y="75" width="3" height="8" fill="#fff"/>
<rect x="542" y="62" width="1" height="14" fill="#000"/>
<rect x="540" y="63" width="5" height="11" fill="#000"/>
<rect x="541" y="64" width="3" height="9" fill="#fff"/>
<rect x="550" y="60" width="1" height="6" fill="#000"/>
<rect x="548" y="63" width="5" height="2" fill="#000"/>
<rect x="558" y="63" width="1" height="3" fill="#000"/>
<rect x="556" y="63" width="5" height="2" fill="#000"/>
<rect x="566" y="62" width="1" height="5" fill="#000"/>
<rect x="564" y="62" width="5" height="2" fill="#000"/>
<rect x="574" y="63" width="1" height="10" fill="#000"/>
<rect x="572" y="64" width="5" height="5" fill="#000"/>
<rect x="582" y="62" width="1" height="11" fill="#000"/>
<rect x="580" y="69" width="5" height="4" fill="#000"/>
<rect x="590" y="68" width="1" height="13" fill="#000"/>
<rect x="588" y="69" width="5" height="4" fill="#000"/>
<rect x="589" y="70" width="3" height="2" fill="#fff"/>
<rect x="598" y="66" width="1" height="21" fill="#000"/>
<rect x="596" y="69" width="5" height="11" fill="#000"/>
<rect x="606" y="90" width="1" height="5" fill="#000"/>
<rect x="604" y="90" width="5" height="3" fill="#000"/>
<rect x="614" y="89" width="1" height="16" fill="#000"/>
<rect x="612" y="92" width="5" height="6" fill="#000"/>
<rect x="622" y="88" width="1" height="12" fill="#000"/>
<rect x="620" y="91" width="5" height="7" fill="#000"/>
<rect x="621" y="92" width="3" height="5" fill="#fff"/>
<rect x="630" y="82" width="1" height="11" fill="#000"/>
<rect x="628" y="89" width="5" height="3" fill="#000"/>
<rect x="629" y="90" width="3" height="1" fill="#fff"/>
<rect x="638" y="84" width="1" height="19" fill="#000"/>
<rect x="636" y="86" width="5" height="3" fill="#000"/>
<rect x="637" y="87" width="3" height="1" fill="#fff"/>
<rect x="646" y="82" width="1" height="36" fill="#000"/>
<rect x="644" y="85" width="5" height="27" fill="#000"/>
<rect x="654" y="110" width="1" height="6" fill="#000"/>
<rect x="652" y="111" width="5" height="5" fill="#000"/>
<rect x="653" y="112" width="3" height="3" fill="#fff"/>
<rect x="662" y="96" width="1" height="17" fill="#000"/>
<rect x="660" y="108" width="5" height="4" fill="#000"/>
<rect x="661" y="109" width="3" height="2" fill="#fff"/>
<rect x="670" y="84" width="1" height="24" fill="#000"/>
<rect x="668" y="89" width="5" height="19" fill="#000"/>
<rect x="669" y="90" width="3" height="17" fill="#fff"/>
<rect x="678" y="64" width="1" height="28" fill="#000"/>
<rect x="676" y="66" width="5" height="24" fill="#000"/>
<rect x="677" y="67" width="3" height="22" fill="#fff"/>
<rect x="686" y="55" width="1" height="14" fill="#000"/>
<rect x="684" y="60" width="5" height="7" fill="#000"/>
<rect x="685" y="61" width="3" height="5" fill="#fff"/>
<rect x="694" y="60" width="1" height="17" fill="#000"/>
<rect x="692" y="60" width="5" height="15" fill="#000"/>
<rect x="702" y="73" width="1" height="11" fill="#000"/>
<rect x="700" y="76" width="5" height="5" fill="#000"/>
<rect x="710" y="65" width="1" height="16" fill="#000"/>
<rect x="708" y="66" width="5" height="15" fill="#000"/>
<rect x="709" y="67" width="3" height="13" fill="#fff"/>
<rect x="718" y="59" width="1" height="11" fill="#000"/>
<rect x="716" y="65" width="5" height="2" fill="#000"/>
<rect x="726" y="52" width="1" height="16" fill="#000"/>
<rect x="724" y="58" width="5" height="8" fill="#000"/>
<rect x="725" y="59" width="3" height="6" fill="#fff"/>
<rect x="734" y="53" width="1" height="13" fill="#000"/>
<rect x="732" y="57" width="5" height="2" fill="#000"/>
<rect x="742" y="53" width="1" height="12" fill="#000"/>
<rect x="740" y="59" width="5" height="1" fill="#000"/>
<rect x="750" y="55" width="1" height="5" fill="#000"/>
<rect x="748" y="56" width="5" height="4" fill="#000"/>
<rect x="749" y="57" width="3" height="2" fill="#fff"/>
<rect x="758" y="55" width="1" height="8" fill="#000"/>
<rect x="756" y="56" width="5" height="5" fill="#000"/>
<rect x="766" y="60" width="1" height="13" fill="#000"/>
<rect x="764" y="60" width="5" height="4" fill="#000"/>
<rect x="774" y="58" width="1" height="9" fill="#000"/>
<rect x="772" y="59" width="5" height="5" fill="#000"/>
<rect x="773" y="60" width="3" height="3" fill="#fff"/>
<rect x="782" y="57" width="1" height="24" fill="#000"/>
<rect x="780" y="59" width="5" height="16" fill="#000"/>
<rect x="790" y="70" width="1" height="13" fill="#000"/>
<rect x="788" y="73" width="5" height="5" fill="#000"/>
<rect x="798" y="88" width="1" height="9" fill="#000"/>
<rect x="796" y="88" width="5" height="6" fill="#000"/>
<rect x="806" y="91" width="1" height="38" fill="#000"/>
<rect x="804" y="94" width="5" height="27" fill="#000"/>
<rect x="814" y="111" width="1" height="59" fill="#000"/>
<rect x="812" y="120" width="5" height="37" fill="#000"/>
<rect x="822" y="144" width="1" height="39" fill="#000"/>
<rect x="820" y="155" width="5" height="20" fill="#000"/>
<rect x="830" y="173" width="1" height="69" fill="#000"/>
<rect x="828" y="174" width="5" height="57" fill="#000"/>
<rect x="838" y="224" width="1" height="51" fill="#000"/>
<rect x="836" y="229" width="5" height="7" fill="#000"/>
<rect x="846" y="249" width="1" height="18" fill="#000"/>
<rect x="844" y="250" width="5" height="6" fill="#000"/>
<rect x="854" y="181" width="1" height="79" fill="#000"/>
<rect x="852" y="184" width="5" height="70" fill="#000"/>
<rect x="853" y="185" width="3" height="68" fill="#fff"/>
<rect x="862" y="165" width="1" height="64" fill="#000"/>
<rect x="860" y="184" width="5" height="39" fill="#000"/>
<rect x="870" y="164" width="1" height="59" fill="#000"/>
<rect x="868" y="172" width="5" height="51" fill="#000"/>
<rect x="869" y="173" width="3" height="49" fill="#fff"/>
<rect x="878" y="172" width="1" height="46" fill="#000"/>
<rect x="876" y="173" width="5" height="33" fill="#000"/>
<rect x="886" y="201" width="1" height="50" fill="#000"/>
<rect x="884" y="205" width="5" height="19" fill="#000"/>
<rect x="894" y="265" width="1" height="11" fill="#000"/>
<rect x="892" y="268" width="5" height="7" fill="#000"/>
<rect x="902" y="269" width="1" height="63" fill="#000"/>
<rect x="900" y="274" width="5" height="18" fill="#000"/>
<rect x="910" y="258" width="1" height="64" fill="#000"/>
<rect x="908" y="280" width="5" height="11" fill="#000"/>
<rect x="909" y="281" width="3" height="9" fill="#fff"/>
<rect x="918" y="274" width="1" height="64" fill="#000"/>
<rect x="916" y="280" width="5" height="48" fill="#000"/>
<rect x="926" y="324" width="1" height="136" fill="#000"/>
<rect x="924" y="327" width="5" height="124" fill="#000"/>
<rect x="934" y="344" width="1" height="127" fill="#000"/>
<rect x="932" y="349" width="5" height="102" fill="#000"/>
<rect x="933" y="350" width="3" height="100" fill="#fff"/>
<rect x="942" y="397" width="1" height="3" fill="#000"/>
<rect x="940" y="398" width="5" height="2" fill="#000"/>
<rect x="950" y="399" width="1" height="86" fill="#000"/>
<rect x="948" y="399" width="5" height="59" fill="#000"/>
<rect x="958" y="425" width="1" height="69" fill="#000"/>
<rect x="956" y="457" width="5" height="20" fill="#000"/>
<rect x="966" y="461" width="1" height="83" fill="#000"/>
<rect x="964" y="476" width="5" height="2" fill="#000"/>
<rect x="974" y="472" width="1" height="69" fill="#000"/>
<rect x="972" y="477" width="5" height="28" fill="#000"/>
<rect x="982" y="447" width="1" height="88" fill="#000"/>
<rect x="980" y="505" width="5" height="27" fill="#000"/>
<rect x="990" y="556" width="1" height="21" fill="#000"/>
<rect x="988" y="570" width="5" height="7" fill="#000"/>
<rect x="989" y="571" width="3" height="5" fill="#fff"/>
<rect x="998" y="497" width="1" height="81" fill="#000"/>
<rect x="996" y="545" width="5" height="25" fill="#000"/>
<rect x="997" y="546" width="3" height="23" fill="#fff"/>
<rect x="1006" y="444" width="1" height="106" fill="#000"/>
<rect x="1004" y="464" width="5" height="80" fill="#000"/>
<rect x="1005" y="465" width="3" height="78" fill="#fff"/>
<rect x="1014" y="401" width="1" height="74" fill="#000"/>
<rect x="1012" y="437" width="5" height="29" fill="#000"/>
<rect x="1013" y="438" width="3" height="27" fill="#fff"/>
<rect x="1022" y="372" width="1" height="93" fill="#000"/>
<rect x="1020" y="373" width="5" height="66" fill="#000"/>
<rect x="1021" y="374" width="3" height="64" fill="#fff"/>
<rect x="1030" y="372" width="1" height="56" fill="#000"/>
<rect x="1028" y="373" width="5" height="49" fill="#000"/>
<rect x="1038" y="432" width="1" height="11" fill="#000"/>
<rect x="1036" y="436" width="5" height="5" fill="#000"/>
<rect x="1037" y="437" width="3" height="3" fill="#fff"/>
<rect x="1046" y="385" width="1" height="54" fill="#000"/>
<rect x="1044" y="387" width="5" height="49" fill="#000"/>
<rect x="1045" y="388" width="3" height="47" fill="#fff"/>
<rect x="1054" y="379" width="1" height="42" fill="#000"/>
<rect x="1052" y="386" width="5" height="34" fill="#000"/>
<rect x="1062" y="416" width="1" height="43" fill="#000"/>
<rect x="1060" y="419" width="5" height="26" fill="#000"/>
<rect x="1070" y="425" width="1" height="40" fill="#000"/>
<rect x="1068" y="434" width="5" height="10" fill="#000"/>
<rect x="1069" y="435" width="3" height="8" fill="#fff"/>
<rect x="1078" y="427" width="1" height="27" fill="#000"/>
<rect x="1076" y="435" width="5" height="10" fill="#000"/>
<rect x="1086" y="430" width="1" height="5" fill="#000"/>
<rect x="1084" y="431" width="5" height="3" fill="#000"/>
<rect x="1085" y="432" width="3" height="1" fill="#fff"/>
<rect x="1094" y="366" width="1" height="66" fill="#000"/>
<rect x="1092" y="367" width="5" height="65" fill="#000"/>
<rect x="1093" y="368" width="3" height="63" fill="#fff"/>
<rect x="1102" y="329" width="1" height="54" fill="#000"/>
<rect x="1100" y="367" width="5" height="6" fill="#000"/>
<rect x="1110" y="331" width="1" height="55" fill="#000"/>
<rect x="1108" y="332" width="5" height="41" fill="#000"/>
<rect x="1109" y="333" width="3" height="39" fill="#fff"/>
<rect x="1118" y="310" width="1" height="40" fill="#000"/>
<rect x="1116" y="319" width="5" height="14" fill="#000"/>
<rect x="1117" y="320" width="3" height="12" fill="#fff"/>
<rect x="1126" y="329" width="1" height="10" fill="#000"/>
<rect x="1124" y="331" width="5" height="6" fill="#000"/>
<rect x="1134" y="323" width="1" height="30" fill="#000"/>
<rect x="1132" y="333" width="5" height="3" fill="#000"/>
<rect x="1133" y="334" width="3" height="1" fill="#fff"/>
<rect x="1142" y="306" width="1" height="34" fill="#000"/>
<rect x="1140" y="312" width="5" height="21" fill="#000"/>
<rect x="1141" y="313" width="3" height="19" fill="#fff"/>
<rect x="1150" y="312" width="1" height="35" fill="#000"/>
<rect x="1148" y="312" width="5" height="30" fill="#000"/>
<rect x="1158" y="290" width="1" height="58" fill="#000"/>
<rect x="1156" y="297" width="5" height="45" fill="#000"/>
<rect x="1157" y="298" width="3" height="43" fill="#fff"/>
<rect x="1166" y="291" width="1" height="28" fill="#000"/>
<rect x="1164" y="297" width="5" height="2" fill="#000"/>
<rect x="1174" y="303" width="1" height="6" fill="#000"/>
<rect x="1172" y="306" width="5" height="1" fill="#000"/>
<rect x="1182" y="296" width="1" height="35" fill="#000"/>
<rect x="1180" y="305" width="5" height="21" fill="#000"/>
<rect x="1190" y="319" width="1" height="41" fill="#000"/>
<rect x="1188" y="325" width="5" height="26" fill="#000"/>
<rect x="1198" y="328" width="1" height="32" fill="#000"/>
<rect x="1196" y="337" width="5" height="13" fill="#000"/>
<rect x="1197" y="338" width="3" height="11" fill="#fff"/>
<rect x="1206" y="315" width="1" height="26" fill="#000"/>
<rect x="1204" y="338" width="5" height="1" fill="#000"/>
<rect x="1214" y="318" width="1" height="26" fill="#000"/>
<rect x="1212" y="320" width="5" height="19" fill="#000"/>
<rect x="1213" y="321" width="3" height="17" fill="#fff"/>
<rect x="1222" y="322" width="1" height="3" fill="#000"/>
<rect x="1220" y="323" width="5" height="2" fill="#000"/>
<rect x="1230" y="303" width="1" height="23" fill="#000"/>
<rect x="1228" y="304" width="5" height="20" fill="#000"/>
<rect x="1229" y="305" width="3" height="18" fill="#fff"/>
<rect x="1238" y="285" width="1" height="26" fill="#000"/>
<rect x="1236" y="303" width="5" height="3" fill="#000"/>
<rect x="1237" y="304" width="3" height="1" fill="#fff"/>
<rect x="1246" y="276" width="1" height="28" fill="#000"/>
<rect x="1244" y="280" width="5" height="23" fill="#000"/>
<rect x="1245" y="281" width="3" height="21" fill="#fff"/>
<rect x="1254" y="269" width="1" height="43" fill="#000"/>
<rect x="1252" y="278" width="5" height="26" fill="#000"/>
<rect x="1262" y="303" width="1" height="24" fill="#000"/>
<rect x="1260" y="303" width="5" height="20" fill="#000"/>
<rect x="1270" y="336" width="1" height="5" fill="#000"/>
<rect x="1268" y="337" width="5" height="2" fill="#000"/>
<rect x="1278" y="320" width="1" height="22" fill="#000"/>
<rect x="1276" y="321" width="5" height="17" fill="#000"/>
<rect x="1277" y="322" width="3" height="15" fill="#fff"/>
<rect x="1286" y="303" width="1" height="19" fill="#000"/>
<rect x="1284" y="314" width="5" height="8" fill="#000"/>
<rect x="1285" y="315" width="3" height="6" fill="#fff"/>
<rect x="1294" y="305" width="1" height="27" fill="#000"/>
<rect x="1292" y="313" width="5" height="15" fill="#000"/>
<rect x="1302" y="305" width="1" height="23" fill="#000"/>
<rect x="1300" y="307" width="5" height="21" fill="#000"/>
<rect x="1301" y="308" width="3" height="19" fill="#fff"/>
<rect x="1310" y="291" width="1" height="17" fill="#000"/>
<rect x="1308" y="292" width="5" height="16" fill="#000"/>
<rect x="1309" y="293" width="3" height="14" fill="#fff"/>
<rect x="1318" y="286" width="1" height="7" fill="#000"/>
<rect x="1316" y="288" width="5" height="5" fill="#000"/>
<rect x="1317" y="289" width="3" height="3" fill="#fff"/>
<rect x="1326" y="283" width="1" height="24" fill="#000"/>
<rect x="1324" y="290" width="5" height="12" fill="#000"/>
<rect x="1334" y="291" width="1" height="43" fill="#000"/>
<rect x="1332" y="301" width="5" height="32" fill="#000"/>
<rect x="1342" y="315" width="1" height="37" fill="#000"/>
<rect x="1340" y="331" width="5" height="10" fill="#000"/>
<rect x="1350" y="322" width="1" height="43" fill="#000"/>
<rect x="1348" y="323" width="5" height="18" fill="#000"/>
<rect x="1349" y="324" width="3" height="16" fill="#fff"/>
<rect x="1358" y="320" width="1" height="16" fill="#000"/>
<rect x="1356" y="322" width="5" height="6" fill="#000"/>
<rect x="1366" y="316" width="1" height="3" fill="#000"/>
<rect x="1364" y="318" width="5" height="1" fill="#000"/>
<rect x="1374" y="277" width="1" height="43" fill="#000"/>
<rect x="1372" y="279" width="5" height="40" fill="#000"/>
<rect x="1373" y="280" width="3" height="38" fill="#fff"/>
<rect x="1382" y="277" width="1" height="25" fill="#000"/>
<rect x="1380" y="279" width="5" height="17" fill="#000"/>
<rect x="1390" y="278" width="1" height="18" fill="#000"/>
<rect x="1388" y="280" width="5" height="16" fill="#000"/>
<rect x="1389" y="281" width="3" height="14" fill="#fff"/>
<rect x="1447" y="271" width="7" height="1" fill="#f00"/>
<rect x="1454.5" y="269.5" width="2" height="3" fill="#fff" stroke="#f00" stroke-width="1"/>
<rect x="1314" y="266" width="90" height="11" fill="#00ff00"/>
<g stroke="#f00" stroke-width="3" fill="none" shape-rendering="crispEdges" stroke-linecap="butt">
<line x1="1183" y1="362.5" x2="1250.5" y2="271.8"/>
<line x1="1250.5" y1="271.8" x2="1279.8" y2="338.6"/>
<line x1="1279.8" y1="338.6" x2="1327.3" y2="286"/>
<line x1="1327.3" y1="286" x2="1352.1" y2="353.3"/>
<line x1="1352.1" y1="353.3" x2="1387.5" y2="277.8"/>
</g>
<g fill="#f00" stroke="#f00" stroke-width="1" shape-rendering="crispEdges">
<polygon points="1250.5,271.8 1240.2,278.0 1247.5,283.4"/>
<polygon points="1279.8,338.6 1279.5,326.6 1271.2,330.3"/>
<polygon points="1327.3,286.0 1316.5,291.2 1323.2,297.3"/>
<polygon points="1352.1,353.3 1352.5,341.3 1344.0,344.5"/>
<polygon points="1387.5,277.8 1378.7,285.9 1386.9,289.8"/>
</g>
</g>
<rect x="1457.5" y="259.5" width="73" height="24" fill="#fff" stroke="#f00" stroke-width="1"/>
<text x="1458.6" y="280.1" font-size="23.4" fill="#f00" stroke="#f00" stroke-width="0.3" textLength="70.4" lengthAdjust="spacingAndGlyphs" shape-rendering="auto">24734.3</text>
<g shape-rendering="auto"><text x="1454.8" y="343.2" font-size="33" font-weight="bold" fill="#001a00" textLength="162" lengthAdjust="spacingAndGlyphs" style="font-family:'Liberation Serif','Noto Serif CJK SC',serif">多空转折点</text><text x="1453.6" y="342.3" font-size="33" font-weight="bold" fill="#00ff00" textLength="162" lengthAdjust="spacingAndGlyphs" style="font-family:'Liberation Serif','Noto Serif CJK SC',serif">多空转折点</text></g>
<rect x="1629" y="27" width="2" height="1" fill="#000"/>
<text x="1634" y="31" font-size="10" fill="#000" stroke="#000" stroke-width="0.25" text-rendering="geometricPrecision" textLength="33.1" lengthAdjust="spacingAndGlyphs" >30076.0</text>
<rect x="1629" y="60" width="2" height="1" fill="#000"/>
<text x="1634" y="64" font-size="10" fill="#000" stroke="#000" stroke-width="0.25" text-rendering="geometricPrecision" textLength="33.1" lengthAdjust="spacingAndGlyphs" >29366.5</text>
<rect x="1629" y="93" width="2" height="1" fill="#000"/>
<text x="1634" y="97" font-size="10" fill="#000" stroke="#000" stroke-width="0.25" text-rendering="geometricPrecision" textLength="33.1" lengthAdjust="spacingAndGlyphs" >28635.5</text>
<rect x="1629" y="126" width="2" height="1" fill="#000"/>
<text x="1634" y="130" font-size="10" fill="#000" stroke="#000" stroke-width="0.25" text-rendering="geometricPrecision" textLength="33.1" lengthAdjust="spacingAndGlyphs" >27904.5</text>
<rect x="1629" y="159" width="2" height="1" fill="#000"/>
<text x="1634" y="163" font-size="10" fill="#000" stroke="#000" stroke-width="0.25" text-rendering="geometricPrecision" textLength="33.1" lengthAdjust="spacingAndGlyphs" >27195.0</text>
<rect x="1629" y="192" width="2" height="1" fill="#000"/>
<text x="1634" y="196" font-size="10" fill="#000" stroke="#000" stroke-width="0.25" text-rendering="geometricPrecision" textLength="33.1" lengthAdjust="spacingAndGlyphs" >26464.0</text>
<rect x="1629" y="225" width="2" height="1" fill="#000"/>
<text x="1634" y="229" font-size="10" fill="#000" stroke="#000" stroke-width="0.25" text-rendering="geometricPrecision" textLength="33.1" lengthAdjust="spacingAndGlyphs" >25733.0</text>
<rect x="1629" y="258" width="2" height="1" fill="#000"/>
<text x="1634" y="262" font-size="10" fill="#000" stroke="#000" stroke-width="0.25" text-rendering="geometricPrecision" textLength="33.1" lengthAdjust="spacingAndGlyphs" >25023.5</text>
<rect x="1629" y="291" width="2" height="1" fill="#000"/>
<text x="1634" y="295" font-size="10" fill="#000" stroke="#000" stroke-width="0.25" text-rendering="geometricPrecision" textLength="33.1" lengthAdjust="spacingAndGlyphs" >24292.5</text>
<rect x="1629" y="324" width="2" height="1" fill="#000"/>
<text x="1634" y="328" font-size="10" fill="#000" stroke="#000" stroke-width="0.25" text-rendering="geometricPrecision" textLength="33.1" lengthAdjust="spacingAndGlyphs" >23583.0</text>
<rect x="1629" y="357" width="2" height="1" fill="#000"/>
<text x="1634" y="361" font-size="10" fill="#000" stroke="#000" stroke-width="0.25" text-rendering="geometricPrecision" textLength="33.1" lengthAdjust="spacingAndGlyphs" >22852.0</text>
<rect x="1629" y="390" width="2" height="1" fill="#000"/>
<text x="1634" y="394" font-size="10" fill="#000" stroke="#000" stroke-width="0.25" text-rendering="geometricPrecision" textLength="33.1" lengthAdjust="spacingAndGlyphs" >22121.0</text>
<rect x="1629" y="423" width="2" height="1" fill="#000"/>
<text x="1634" y="427" font-size="10" fill="#000" stroke="#000" stroke-width="0.25" text-rendering="geometricPrecision" textLength="33.1" lengthAdjust="spacingAndGlyphs" >21411.5</text>
<rect x="1629" y="456" width="2" height="1" fill="#000"/>
<text x="1634" y="460" font-size="10" fill="#000" stroke="#000" stroke-width="0.25" text-rendering="geometricPrecision" textLength="33.1" lengthAdjust="spacingAndGlyphs" >20680.5</text>
<rect x="1629" y="489" width="2" height="1" fill="#000"/>
<text x="1634" y="493" font-size="10" fill="#000" stroke="#000" stroke-width="0.25" text-rendering="geometricPrecision" textLength="33.1" lengthAdjust="spacingAndGlyphs" >19949.5</text>
<rect x="1629" y="522" width="2" height="1" fill="#000"/>
<text x="1634" y="526" font-size="10" fill="#000" stroke="#000" stroke-width="0.25" text-rendering="geometricPrecision" textLength="33.1" lengthAdjust="spacingAndGlyphs" >19240.0</text>
<rect x="1629" y="555" width="2" height="1" fill="#000"/>
<text x="1634" y="559" font-size="10" fill="#000" stroke="#000" stroke-width="0.25" text-rendering="geometricPrecision" textLength="33.1" lengthAdjust="spacingAndGlyphs" >18509.0</text>
<rect x="1629" y="588" width="2" height="1" fill="#000"/>
<text x="1634" y="592" font-size="10" fill="#000" stroke="#000" stroke-width="0.25" text-rendering="geometricPrecision" textLength="33.1" lengthAdjust="spacingAndGlyphs" >17799.5</text>
<rect x="1630" y="229" width="41" height="11" fill="#f00"/>
<text x="1634" y="238" font-size="10" fill="#fff" stroke="#fff" stroke-width="0.25" text-rendering="geometricPrecision" textLength="33.1" lengthAdjust="spacingAndGlyphs" >25521.7</text>
<rect x="1630" y="247" width="41" height="11" fill="#f00"/>
<text x="1634" y="256" font-size="10" fill="#fff" stroke="#fff" stroke-width="0.25" text-rendering="geometricPrecision" textLength="33.1" lengthAdjust="spacingAndGlyphs" >25128.0</text>
<rect x="1630" y="265" width="41" height="11" fill="#32cd32"/>
<text x="1634" y="274" font-size="10" fill="#fff" stroke="#fff" stroke-width="0.25" text-rendering="geometricPrecision" textLength="33.1" lengthAdjust="spacingAndGlyphs" >24734.3</text>
<rect x="1630" y="275" width="41" height="11" fill="#000"/>
<text x="1634" y="284" font-size="10" fill="#fff" stroke="#fff" stroke-width="0.25" text-rendering="geometricPrecision" textLength="33.1" lengthAdjust="spacingAndGlyphs" >24539.0</text>
<rect x="1630" y="296" width="41" height="11" fill="#00f"/>
<text x="1634" y="305" font-size="10" fill="#fff" stroke="#fff" stroke-width="0.25" text-rendering="geometricPrecision" textLength="33.1" lengthAdjust="spacingAndGlyphs" >24056.2</text>
<rect x="1630" y="313" width="41" height="11" fill="#00f"/>
<text x="1634" y="322" font-size="10" fill="#fff" stroke="#fff" stroke-width="0.25" text-rendering="geometricPrecision" textLength="33.1" lengthAdjust="spacingAndGlyphs" >23684.4</text>
<text x="5.3" y="36" font-size="10" stroke="#000" stroke-width="0.25" text-rendering="geometricPrecision" textLength="48.6" lengthAdjust="spacingAndGlyphs">DJ30-,Daily</text>
<text x="60.2" y="36" font-size="10" stroke="#000" stroke-width="0.25" text-rendering="geometricPrecision" textLength="32.6" lengthAdjust="spacingAndGlyphs">24208.0</text>
<text x="96.4" y="36" font-size="10" stroke="#000" stroke-width="0.25" text-rendering="geometricPrecision" textLength="32.6" lengthAdjust="spacingAndGlyphs">24579.0</text>
<text x="132.2" y="36" font-size="10" stroke="#000" stroke-width="0.25" text-rendering="geometricPrecision" textLength="32.6" lengthAdjust="spacingAndGlyphs">24203.0</text>
<text x="168" y="36" font-size="10" stroke="#000" stroke-width="0.25" text-rendering="geometricPrecision" textLength="32.6" lengthAdjust="spacingAndGlyphs">24539.0</text>
<defs><linearGradient id="rg" x1="0" y1="0" x2="0" y2="1"><stop offset="0" stop-color="#f24c4c"/><stop offset="0.4" stop-color="#d62424"/><stop offset="1" stop-color="#ac0000"/></linearGradient><linearGradient id="bt" x1="0" y1="0" x2="0" y2="1"><stop offset="0" stop-color="#f4f4f4"/><stop offset="0.5" stop-color="#dcdcdc"/><stop offset="0.5" stop-color="#cfcfcf"/><stop offset="1" stop-color="#c4c4c4"/></linearGradient></defs>
<rect x="0" y="44" width="212" height="64" fill="url(#rg)"/>
<rect x="45" y="44" width="116" height="24" fill="#fff"/>
<rect x="102" y="68" width="2" height="40" fill="#fff"/>
<rect x="0" y="67" width="41" height="1" fill="#f08080"/><rect x="164" y="67" width="44" height="1" fill="#f08080"/>
<rect x="47.5" y="44.5" width="110" height="21" fill="#fff" stroke="#a8a8b0" stroke-width="1"/>
<rect x="48" y="45" width="20" height="20" fill="url(#bt)"/><rect x="137" y="45" width="20" height="20" fill="url(#bt)"/>
<rect x="68" y="45" width="1" height="20" fill="#a8a8b0"/><rect x="136" y="45" width="1" height="20" fill="#a8a8b0"/>
<polygon points="55.2,53.4 60.2,53.4 57.7,56.4" fill="#4a5cc0" shape-rendering="auto"/>
<polygon points="144,56.4 149.4,56.4 146.7,53.4" fill="#4a5cc0" shape-rendering="auto"/>
<text x="132.8" y="59.2" font-size="12" text-anchor="end" fill="#000">1.00</text>
<text x="5.4" y="60" font-size="12" fill="#fff" textLength="25.3" lengthAdjust="spacingAndGlyphs">SELL</text>
<text x="173.4" y="60" font-size="12" fill="#fff" textLength="22.6" lengthAdjust="spacingAndGlyphs">BUY</text>
<text x="9.3" y="98.7" font-size="12" font-weight="bold" fill="#fff" textLength="33.2" lengthAdjust="spacingAndGlyphs">24537</text>
<text x="119.3" y="98.7" font-size="12" font-weight="bold" fill="#fff" textLength="34.2" lengthAdjust="spacingAndGlyphs">24546</text>
<rect x="48.4" y="95.4" width="3.8" height="3.6" fill="#fff"/><rect x="159.4" y="95.4" width="3.8" height="3.6" fill="#fff"/>
<text x="54" y="99.2" font-size="33" fill="#fff" textLength="17" lengthAdjust="spacingAndGlyphs">5</text>
<text x="165" y="99.2" font-size="33" fill="#fff" textLength="17" lengthAdjust="spacingAndGlyphs">5</text>
<rect x="6" y="618" width="1" height="5" fill="#c0c0c0"/>
<rect x="14" y="618" width="1" height="5" fill="#c0c0c0"/>
<rect x="22" y="617" width="1" height="6" fill="#c0c0c0"/>
<rect x="30" y="617" width="1" height="6" fill="#c0c0c0"/>
<rect x="38" y="614" width="1" height="9" fill="#c0c0c0"/>
<rect x="46" y="614" width="1" height="9" fill="#c0c0c0"/>
<rect x="54" y="613" width="1" height="10" fill="#c0c0c0"/>
<rect x="62" y="612" width="1" height="11" fill="#c0c0c0"/>
<rect x="70" y="611" width="1" height="12" fill="#c0c0c0"/>
<rect x="78" y="611" width="1" height="12" fill="#c0c0c0"/>
<rect x="86" y="610" width="1" height="13" fill="#c0c0c0"/>
<rect x="94" y="610" width="1" height="13" fill="#c0c0c0"/>
<rect x="102" y="610" width="1" height="13" fill="#c0c0c0"/>
<rect x="110" y="609" width="1" height="14" fill="#c0c0c0"/>
<rect x="118" y="609" width="1" height="14" fill="#c0c0c0"/>
<rect x="126" y="609" width="1" height="14" fill="#c0c0c0"/>
<rect x="134" y="609" width="1" height="14" fill="#c0c0c0"/>
<rect x="142" y="609" width="1" height="14" fill="#c0c0c0"/>
<rect x="150" y="610" width="1" height="13" fill="#c0c0c0"/>
<rect x="158" y="611" width="1" height="12" fill="#c0c0c0"/>
<rect x="166" y="611" width="1" height="12" fill="#c0c0c0"/>
<rect x="174" y="611" width="1" height="12" fill="#c0c0c0"/>
<rect x="182" y="611" width="1" height="12" fill="#c0c0c0"/>
<rect x="190" y="610" width="1" height="13" fill="#c0c0c0"/>
<rect x="198" y="610" width="1" height="13" fill="#c0c0c0"/>
<rect x="206" y="610" width="1" height="13" fill="#c0c0c0"/>
<rect x="214" y="611" width="1" height="12" fill="#c0c0c0"/>
<rect x="222" y="612" width="1" height="11" fill="#c0c0c0"/>
<rect x="230" y="613" width="1" height="10" fill="#c0c0c0"/>
<rect x="238" y="615" width="1" height="8" fill="#c0c0c0"/>
<rect x="246" y="617" width="1" height="6" fill="#c0c0c0"/>
<rect x="254" y="618" width="1" height="5" fill="#c0c0c0"/>
<rect x="262" y="617" width="1" height="6" fill="#c0c0c0"/>
<rect x="270" y="617" width="1" height="6" fill="#c0c0c0"/>
<rect x="278" y="616" width="1" height="7" fill="#c0c0c0"/>
<rect x="286" y="618" width="1" height="5" fill="#c0c0c0"/>
<rect x="294" y="618" width="1" height="5" fill="#c0c0c0"/>
<rect x="302" y="617" width="1" height="6" fill="#c0c0c0"/>
<rect x="310" y="616" width="1" height="7" fill="#c0c0c0"/>
<rect x="318" y="616" width="1" height="7" fill="#c0c0c0"/>
<rect x="326" y="615" width="1" height="8" fill="#c0c0c0"/>
<rect x="334" y="615" width="1" height="8" fill="#c0c0c0"/>
<rect x="342" y="615" width="1" height="8" fill="#c0c0c0"/>
<rect x="350" y="614" width="1" height="9" fill="#c0c0c0"/>
<rect x="358" y="613" width="1" height="10" fill="#c0c0c0"/>
<rect x="366" y="613" width="1" height="10" fill="#c0c0c0"/>
<rect x="374" y="612" width="1" height="11" fill="#c0c0c0"/>
<rect x="382" y="612" width="1" height="11" fill="#c0c0c0"/>
<rect x="390" y="612" width="1" height="11" fill="#c0c0c0"/>
<rect x="398" y="612" width="1" height="11" fill="#c0c0c0"/>
<rect x="406" y="612" width="1" height="11" fill="#c0c0c0"/>
<rect x="414" y="612" width="1" height="11" fill="#c0c0c0"/>
<rect x="422" y="612" width="1" height="11" fill="#c0c0c0"/>
<rect x="430" y="613" width="1" height="10" fill="#c0c0c0"/>
<rect x="438" y="613" width="1" height="10" fill="#c0c0c0"/>
<rect x="446" y="612" width="1" height="11" fill="#c0c0c0"/>
<rect x="454" y="612" width="1" height="11" fill="#c0c0c0"/>
<rect x="462" y="614" width="1" height="9" fill="#c0c0c0"/>
<rect x="470" y="614" width="1" height="9" fill="#c0c0c0"/>
<rect x="478" y="616" width="1" height="7" fill="#c0c0c0"/>
<rect x="486" y="615" width="1" height="8" fill="#c0c0c0"/>
<rect x="494" y="614" width="1" height="9" fill="#c0c0c0"/>
<rect x="502" y="614" width="1" height="9" fill="#c0c0c0"/>
<rect x="510" y="614" width="1" height="9" fill="#c0c0c0"/>
<rect x="518" y="613" width="1" height="10" fill="#c0c0c0"/>
<rect x="526" y="613" width="1" height="10" fill="#c0c0c0"/>
<rect x="534" y="613" width="1" height="10" fill="#c0c0c0"/>
<rect x="542" y="612" width="1" height="11" fill="#c0c0c0"/>
<rect x="550" y="611" width="1" height="12" fill="#c0c0c0"/>
<rect x="558" y="610" width="1" height="13" fill="#c0c0c0"/>
<rect x="566" y="610" width="1" height="13" fill="#c0c0c0"/>
<rect x="574" y="610" width="1" height="13" fill="#c0c0c0"/>
<rect x="582" y="611" width="1" height="12" fill="#c0c0c0"/>
<rect x="590" y="611" width="1" height="12" fill="#c0c0c0"/>
<rect x="598" y="613" width="1" height="10" fill="#c0c0c0"/>
<rect x="606" y="615" width="1" height="8" fill="#c0c0c0"/>
<rect x="614" y="617" width="1" height="6" fill="#c0c0c0"/>
<rect x="622" y="619" width="1" height="4" fill="#c0c0c0"/>
<rect x="630" y="620" width="1" height="3" fill="#c0c0c0"/>
<rect x="638" y="620" width="1" height="3" fill="#c0c0c0"/>
<rect x="646" y="622" width="1" height="1" fill="#c0c0c0"/>
<rect x="654" y="622" width="1" height="2" fill="#c0c0c0"/>
<rect x="662" y="622" width="1" height="4" fill="#c0c0c0"/>
<rect x="670" y="622" width="1" height="4" fill="#c0c0c0"/>
<rect x="678" y="622" width="1" height="1" fill="#c0c0c0"/>
<rect x="686" y="620" width="1" height="3" fill="#c0c0c0"/>
<rect x="694" y="620" width="1" height="3" fill="#c0c0c0"/>
<rect x="702" y="620" width="1" height="3" fill="#c0c0c0"/>
<rect x="710" y="618" width="1" height="5" fill="#c0c0c0"/>
<rect x="718" y="617" width="1" height="6" fill="#c0c0c0"/>
<rect x="726" y="616" width="1" height="7" fill="#c0c0c0"/>
<rect x="734" y="615" width="1" height="8" fill="#c0c0c0"/>
<rect x="742" y="614" width="1" height="9" fill="#c0c0c0"/>
<rect x="750" y="614" width="1" height="9" fill="#c0c0c0"/>
<rect x="758" y="614" width="1" height="9" fill="#c0c0c0"/>
<rect x="766" y="614" width="1" height="9" fill="#c0c0c0"/>
<rect x="774" y="614" width="1" height="9" fill="#c0c0c0"/>
<rect x="782" y="615" width="1" height="8" fill="#c0c0c0"/>
<rect x="790" y="617" width="1" height="6" fill="#c0c0c0"/>
<rect x="798" y="620" width="1" height="3" fill="#c0c0c0"/>
<rect x="806" y="622" width="1" height="1" fill="#c0c0c0"/>
<rect x="814" y="622" width="1" height="8" fill="#c0c0c0"/>
<rect x="822" y="622" width="1" height="15" fill="#c0c0c0"/>
<rect x="830" y="622" width="1" height="26" fill="#c0c0c0"/>
<rect x="838" y="622" width="1" height="34" fill="#c0c0c0"/>
<rect x="846" y="622" width="1" height="42" fill="#c0c0c0"/>
<rect x="854" y="622" width="1" height="41" fill="#c0c0c0"/>
<rect x="862" y="622" width="1" height="44" fill="#c0c0c0"/>
<rect x="870" y="622" width="1" height="40" fill="#c0c0c0"/>
<rect x="878" y="622" width="1" height="41" fill="#c0c0c0"/>
<rect x="886" y="622" width="1" height="42" fill="#c0c0c0"/>
<rect x="894" y="622" width="1" height="47" fill="#c0c0c0"/>
<rect x="902" y="622" width="1" height="52" fill="#c0c0c0"/>
<rect x="910" y="622" width="1" height="54" fill="#c0c0c0"/>
<rect x="918" y="622" width="1" height="60" fill="#c0c0c0"/>
<rect x="926" y="622" width="1" height="75" fill="#c0c0c0"/>
<rect x="934" y="622" width="1" height="77" fill="#c0c0c0"/>
<rect x="942" y="622" width="1" height="82" fill="#c0c0c0"/>
<rect x="950" y="622" width="1" height="90" fill="#c0c0c0"/>
<rect x="958" y="622" width="1" height="97" fill="#c0c0c0"/>
<rect x="966" y="622" width="1" height="102" fill="#c0c0c0"/>
<rect x="974" y="622" width="1" height="107" fill="#c0c0c0"/>
<rect x="982" y="622" width="1" height="112" fill="#c0c0c0"/>
<rect x="990" y="622" width="1" height="118" fill="#c0c0c0"/>
<rect x="998" y="622" width="1" height="119" fill="#c0c0c0"/>
<rect x="1006" y="622" width="1" height="112" fill="#c0c0c0"/>
<rect x="1014" y="622" width="1" height="102" fill="#c0c0c0"/>
<rect x="1022" y="622" width="1" height="87" fill="#c0c0c0"/>
<rect x="1030" y="622" width="1" height="79" fill="#c0c0c0"/>
<rect x="1038" y="622" width="1" height="73" fill="#c0c0c0"/>
<rect x="1046" y="622" width="1" height="63" fill="#c0c0c0"/>
<rect x="1054" y="622" width="1" height="57" fill="#c0c0c0"/>
<rect x="1062" y="622" width="1" height="55" fill="#c0c0c0"/>
<rect x="1070" y="622" width="1" height="51" fill="#c0c0c0"/>
<rect x="1078" y="622" width="1" height="48" fill="#c0c0c0"/>
<rect x="1086" y="622" width="1" height="45" fill="#c0c0c0"/>
<rect x="1094" y="622" width="1" height="35" fill="#c0c0c0"/>
<rect x="1102" y="622" width="1" height="28" fill="#c0c0c0"/>
<rect x="1110" y="622" width="1" height="18" fill="#c0c0c0"/>
<rect x="1118" y="622" width="1" height="9" fill="#c0c0c0"/>
<rect x="1126" y="622" width="1" height="4" fill="#c0c0c0"/>
<rect x="1134" y="622" width="1" height="1" fill="#c0c0c0"/>
<rect x="1142" y="616" width="1" height="7" fill="#c0c0c0"/>
<rect x="1150" y="615" width="1" height="8" fill="#c0c0c0"/>
<rect x="1158" y="610" width="1" height="13" fill="#c0c0c0"/>
<rect x="1166" y="606" width="1" height="17" fill="#c0c0c0"/>
<rect x="1174" y="603" width="1" height="20" fill="#c0c0c0"/>
<rect x="1182" y="604" width="1" height="19" fill="#c0c0c0"/>
<rect x="1190" y="607" width="1" height="16" fill="#c0c0c0"/>
<rect x="1198" y="609" width="1" height="14" fill="#c0c0c0"/>
<rect x="1206" y="609" width="1" height="14" fill="#c0c0c0"/>
<rect x="1214" y="608" width="1" height="15" fill="#c0c0c0"/>
<rect x="1222" y="608" width="1" height="15" fill="#c0c0c0"/>
<rect x="1230" y="607" width="1" height="16" fill="#c0c0c0"/>
<rect x="1238" y="606" width="1" height="17" fill="#c0c0c0"/>
<rect x="1246" y="603" width="1" height="20" fill="#c0c0c0"/>
<rect x="1254" y="603" width="1" height="20" fill="#c0c0c0"/>
<rect x="1262" y="606" width="1" height="17" fill="#c0c0c0"/>
<rect x="1270" y="608" width="1" height="15" fill="#c0c0c0"/>
<rect x="1278" y="609" width="1" height="14" fill="#c0c0c0"/>
<rect x="1286" y="610" width="1" height="13" fill="#c0c0c0"/>
<rect x="1294" y="611" width="1" height="12" fill="#c0c0c0"/>
<rect x="1302" y="611" width="1" height="12" fill="#c0c0c0"/>
<rect x="1310" y="610" width="1" height="13" fill="#c0c0c0"/>
<rect x="1318" y="608" width="1" height="15" fill="#c0c0c0"/>
<rect x="1326" y="608" width="1" height="15" fill="#c0c0c0"/>
<rect x="1334" y="611" width="1" height="12" fill="#c0c0c0"/>
<rect x="1342" y="615" width="1" height="8" fill="#c0c0c0"/>
<rect x="1350" y="616" width="1" height="7" fill="#c0c0c0"/>
<rect x="1358" y="617" width="1" height="6" fill="#c0c0c0"/>
<rect x="1366" y="618" width="1" height="5" fill="#c0c0c0"/>
<rect x="1374" y="614" width="1" height="9" fill="#c0c0c0"/>
<rect x="1382" y="613" width="1" height="10" fill="#c0c0c0"/>
<rect x="1390" y="611" width="1" height="12" fill="#c0c0c0"/>
<polyline points="1.7,619.5 8.3,619 16.7,618.5 33,617.3 50,615.7 58,614.8 66.7,614 83,612.8 100,611.2 110,610.3 125,609.5 141.7,609 150,608.7 170,608.7 173,609.5 208,609.5 216.7,610.3 241.7,610.3 245,611.2 258,612.8 279,614.8 289,615.3 292,616.5 320.7,616.5 337,615.7 354,614.8 367,614.3 372,613.5 392,613.5 395.7,612.3 409,611.8 412,611.2 457,611.2 460.7,612.3 482,612.3 485.7,613.5 537,613.5 545.7,612.8 558,612.8 563,611.5 583,611.5 588,610.3 609.7,610.3 624.7,612.3 628,613.5 641,614.5 651,617.3 661,619.5 674.7,620.7 678,621.5 691,622 704.7,622.3 708,621.5 724.7,620.7 741,617.8 751,616.5 758,615.7 769.7,614.5 808,614.5 811,615.7 818,618.7 824.7,621.5 831,624.8 837,627.3 843.7,632.3 853.7,640.7 862,644.8 870.3,650.7 878.7,654.8 887,658.2 895.3,662.8 903.7,665.7 910.3,667.7 920.3,669.8 927,673.7 937,678.2 945.3,683.2 952,687.3 958.7,692.3 967,699.8 975.3,706.5 982,710.7 987,715.3 993.7,719.3 1000.3,723.2 1007,726.8 1012,728.7 1017,729.5 1023.7,727.8 1028.7,726.5 1037,724.3 1045.3,718.7 1053.7,713.2 1060.3,708.2 1070.3,698.2 1078.7,690.3 1087,683.2 1095.3,677.8 1102,674.3 1110.3,667.3 1117.7,661.5 1126,655.7 1132.7,650.7 1142.7,641.5 1149.3,637 1156,632 1161,627.3 1167.7,622.7 1174.3,619 1179.3,615.7 1186,613.2 1191,610.7 1196,609.3 1207.7,608.7 1211,607.3 1219.3,606.5 1241,606.2 1246,605.3 1287.7,605.3 1292.7,606.5 1307.7,606.5 1311,607.3 1321,607.3 1324.3,608.5 1346,609.3 1349.3,610.3 1357.7,611.2 1366,612.3 1379.3,612.8 1391,613.5" fill="none" stroke="#f00" stroke-width="1" stroke-dasharray="3 3"/>
<text x="-5.4" y="606" font-size="10" stroke="#000" stroke-width="0.25" text-rendering="geometricPrecision" textLength="28.3" lengthAdjust="spacingAndGlyphs">MACD</text>
<text x="23.1" y="606" font-size="10" stroke="#000" stroke-width="0.25" text-rendering="geometricPrecision" textLength="36.7" lengthAdjust="spacingAndGlyphs">(12,26,9)</text>
<text x="63.2" y="606" font-size="10" stroke="#000" stroke-width="0.25" text-rendering="geometricPrecision" textLength="58.7" lengthAdjust="spacingAndGlyphs">214.30 166.75</text>
<rect x="1629" y="595" width="1" height="1" fill="#000"/>
<text x="1632" y="604" font-size="10" fill="#000" stroke="#000" stroke-width="0.25" text-rendering="geometricPrecision" textLength="28.1" lengthAdjust="spacingAndGlyphs" >516.54</text>
<rect x="1629" y="622" width="1" height="1" fill="#000"/>
<text x="1632" y="626" font-size="10" fill="#000" stroke="#000" stroke-width="0.25" text-rendering="geometricPrecision" textLength="17.9" lengthAdjust="spacingAndGlyphs" >0.00</text>
<rect x="1629" y="748" width="1" height="1" fill="#000"/>
<text x="1632" y="746" font-size="10" fill="#000" stroke="#000" stroke-width="0.25" text-rendering="geometricPrecision" textLength="36.3" lengthAdjust="spacingAndGlyphs" >-2409.06</text>
<line x1="3" y1="787.5" x2="1627" y2="787.5" stroke="#c0c0c0" stroke-width="1" stroke-dasharray="3 3"/>
<line x1="3" y1="838.5" x2="1627" y2="838.5" stroke="#c0c0c0" stroke-width="1" stroke-dasharray="3 3"/>
<line x1="3" y1="899.5" x2="1627" y2="899.5" stroke="#c0c0c0" stroke-width="1" stroke-dasharray="3 3"/>
<polyline points="-1.5,823.3 6.5,819.5 14.5,830.3 22.5,818.3 30.5,816.2 38.5,811.3 46.5,812.5 54.5,813.7 62.5,804.2 70.5,808.3 78.5,808.3 86.5,807.5 94.5,807.5 102.5,803.3 110.5,802.5 118.5,795.3 126.5,797.5 134.5,795.3 142.5,810 150.5,819.2 158.5,820.5 166.5,813.7 174.5,810 182.5,804.5 190.5,801.3 198.5,806.2 206.5,804.5 214.5,809.5 222.5,807.5 230.5,836.7 238.5,852.5 246.5,843.8 254.5,840 262.5,823.3 270.5,823.3 278.5,830.3 286.5,831.7 294.5,828 302.5,814.5 310.5,820.3 318.5,820.3 326.5,818.3 334.5,815.5 342.5,814.2 350.5,808.7 358.5,805.5 366.5,804.2 374.5,802.2 382.5,808.3 390.5,807.2 398.5,802.5 406.5,803.3 414.5,801.2 422.5,821.3 430.5,816.7 438.5,815 446.5,800.5 454.5,823.3 462.5,830.3 470.5,824.5 478.5,844.5 486.5,822.2 494.5,817.5 502.5,825.5 510.5,824.2 518.5,820.3 526.5,824.2 534.5,816.3 542.5,809.5 550.5,810.3 558.5,809.5 566.5,811.3 574.5,818.3 582.5,824.2 590.5,820.3 598.5,835 606.5,847.5 614.5,852.5 622.5,844.5 630.5,843.3 638.5,838.7 646.5,861.7 654.5,860.3 662.5,855.8 670.5,836.7 678.5,821.2 686.5,817.5 694.5,830.8 702.5,835.3 710.5,825.5 718.5,824.2 726.5,820.3 734.5,821.3 742.5,821.3 750.5,819.5 758.5,824.2 766.5,827.5 774.5,824.5 782.5,839.2 790.5,842.8 798.5,855 806.5,870.8 814.5,884.2 822.5,888 830.5,898.3 838.5,900 846.5,902.8 854.5,860.8 862.5,869.5 870.5,850.8 878.5,858.3 886.5,861.7 894.5,871.2 902.5,874.5 910.5,870.5 918.5,877.5 926.5,890.3 934.5,863.8 942.5,869.5 950.5,875.3 958.5,877.5 966.5,877.5 974.5,880.3 982.5,882.2 990.5,886.3 998.5,878.8 1006.5,858.8 1014.5,853.3 1022.5,841.7 1030.5,848.3 1038.5,851.7 1046.5,842.5 1054.5,847.2 1062.5,850.5 1070.5,848.3 1078.5,850.5 1086.5,847.2 1094.5,834.2 1102.5,835.5 1110.5,828.3 1118.5,826.7 1126.5,830.5 1134.5,829.2 1142.5,825.3 1150.5,832.5 1158.5,824.5 1166.5,824.5 1174.5,826.7 1182.5,832.5 1190.5,838.3 1198.5,835.5 1206.5,835.5 1214.5,830.3 1222.5,831.7 1230.5,826.7 1238.5,826.7 1246.5,819.5 1254.5,829.2 1262.5,835.5 1270.5,840.5 1278.5,835.5 1286.5,832.5 1294.5,838.3 1302.5,831.7 1310.5,826.7 1318.5,825.3 1326.5,830.3 1334.5,842.5 1342.5,845.8 1350.5,838.3 1358.5,840.5 1366.5,836.3 1374.5,823.3 1382.5,830.3 1390.5,826.3" fill="none" stroke="#1e90ff" stroke-width="1" />
<text x="-6.5" y="764" font-size="10" stroke="#000" stroke-width="0.25" text-rendering="geometricPrecision" textLength="32.4" lengthAdjust="spacingAndGlyphs">RSI(14)</text>
<text x="29.1" y="764" font-size="10" stroke="#000" stroke-width="0.25" text-rendering="geometricPrecision" textLength="33" lengthAdjust="spacingAndGlyphs">57.9695</text>
<rect x="1629" y="753" width="1" height="1" fill="#000"/>
<text x="1632" y="762" font-size="10" fill="#000" stroke="#000" stroke-width="0.25" text-rendering="geometricPrecision" textLength="15.3" lengthAdjust="spacingAndGlyphs" >100</text>
<text x="1631.5" y="791" font-size="10" fill="#000" stroke="#000" stroke-width="0.25" text-rendering="geometricPrecision" textLength="10.2" lengthAdjust="spacingAndGlyphs" >80</text>
<text x="1631.5" y="842" font-size="10" fill="#000" stroke="#000" stroke-width="0.25" text-rendering="geometricPrecision" textLength="10.2" lengthAdjust="spacingAndGlyphs" >50</text>
<text x="1631.5" y="903" font-size="10" fill="#000" stroke="#000" stroke-width="0.25" text-rendering="geometricPrecision" textLength="10.2" lengthAdjust="spacingAndGlyphs" >15</text>
<text x="1631.5" y="922" font-size="10" fill="#000" stroke="#000" stroke-width="0.25" text-rendering="geometricPrecision" textLength="5.1" lengthAdjust="spacingAndGlyphs" >0</text>
<text x="2.9" y="938" font-size="10" fill="#000" stroke="#000" stroke-width="0.25" text-rendering="geometricPrecision" textLength="38.1" lengthAdjust="spacingAndGlyphs" >Oct 2019</text>
<rect x="54" y="926" width="1" height="3" fill="#000"/>
<text x="53" y="938" font-size="10" fill="#000" stroke="#000" stroke-width="0.25" text-rendering="geometricPrecision" textLength="48.1" lengthAdjust="spacingAndGlyphs" >6 Nov 2019</text>
<rect x="118" y="926" width="1" height="3" fill="#000"/>
<text x="117" y="938" font-size="10" fill="#000" stroke="#000" stroke-width="0.25" text-rendering="geometricPrecision" textLength="53.3" lengthAdjust="spacingAndGlyphs" >15 Nov 2019</text>
<rect x="182" y="926" width="1" height="3" fill="#000"/>
<text x="181" y="938" font-size="10" fill="#000" stroke="#000" stroke-width="0.25" text-rendering="geometricPrecision" textLength="53.3" lengthAdjust="spacingAndGlyphs" >25 Nov 2019</text>
<rect x="246" y="926" width="1" height="3" fill="#000"/>
<text x="245" y="938" font-size="10" fill="#000" stroke="#000" stroke-width="0.25" text-rendering="geometricPrecision" textLength="48.1" lengthAdjust="spacingAndGlyphs" >4 Dec 2019</text>
<rect x="310" y="926" width="1" height="3" fill="#000"/>
<text x="309" y="938" font-size="10" fill="#000" stroke="#000" stroke-width="0.25" text-rendering="geometricPrecision" textLength="53.3" lengthAdjust="spacingAndGlyphs" >13 Dec 2019</text>
<rect x="374" y="926" width="1" height="3" fill="#000"/>
<text x="373" y="938" font-size="10" fill="#000" stroke="#000" stroke-width="0.25" text-rendering="geometricPrecision" textLength="53.3" lengthAdjust="spacingAndGlyphs" >23 Dec 2019</text>
<rect x="438" y="926" width="1" height="3" fill="#000"/>
<text x="437" y="938" font-size="10" fill="#000" stroke="#000" stroke-width="0.25" text-rendering="geometricPrecision" textLength="46.5" lengthAdjust="spacingAndGlyphs" >1 Jan 2020</text>
<rect x="502" y="926" width="1" height="3" fill="#000"/>
<text x="501" y="938" font-size="10" fill="#000" stroke="#000" stroke-width="0.25" text-rendering="geometricPrecision" textLength="51.7" lengthAdjust="spacingAndGlyphs" >10 Jan 2020</text>
<rect x="566" y="926" width="1" height="3" fill="#000"/>
<text x="565" y="938" font-size="10" fill="#000" stroke="#000" stroke-width="0.25" text-rendering="geometricPrecision" textLength="51.7" lengthAdjust="spacingAndGlyphs" >20 Jan 2020</text>
<rect x="630" y="926" width="1" height="3" fill="#000"/>
<text x="629" y="938" font-size="10" fill="#000" stroke="#000" stroke-width="0.25" text-rendering="geometricPrecision" textLength="51.7" lengthAdjust="spacingAndGlyphs" >29 Jan 2020</text>
<rect x="694" y="926" width="1" height="3" fill="#000"/>
<text x="693" y="938" font-size="10" fill="#000" stroke="#000" stroke-width="0.25" text-rendering="geometricPrecision" textLength="47.6" lengthAdjust="spacingAndGlyphs" >7 Feb 2020</text>
<rect x="758" y="926" width="1" height="3" fill="#000"/>
<text x="757" y="938" font-size="10" fill="#000" stroke="#000" stroke-width="0.25" text-rendering="geometricPrecision" textLength="52.8" lengthAdjust="spacingAndGlyphs" >17 Feb 2020</text>
<rect x="822" y="926" width="1" height="3" fill="#000"/>
<text x="821" y="938" font-size="10" fill="#000" stroke="#000" stroke-width="0.25" text-rendering="geometricPrecision" textLength="52.8" lengthAdjust="spacingAndGlyphs" >26 Feb 2020</text>
<rect x="886" y="926" width="1" height="3" fill="#000"/>
<text x="885" y="938" font-size="10" fill="#000" stroke="#000" stroke-width="0.25" text-rendering="geometricPrecision" textLength="47.6" lengthAdjust="spacingAndGlyphs" >6 Mar 2020</text>
<rect x="950" y="926" width="1" height="3" fill="#000"/>
<text x="949" y="938" font-size="10" fill="#000" stroke="#000" stroke-width="0.25" text-rendering="geometricPrecision" textLength="52.8" lengthAdjust="spacingAndGlyphs" >16 Mar 2020</text>
<rect x="1014" y="926" width="1" height="3" fill="#000"/>
<text x="1013" y="938" font-size="10" fill="#000" stroke="#000" stroke-width="0.25" text-rendering="geometricPrecision" textLength="52.8" lengthAdjust="spacingAndGlyphs" >25 Mar 2020</text>
<rect x="1078" y="926" width="1" height="3" fill="#000"/>
<text x="1077" y="938" font-size="10" fill="#000" stroke="#000" stroke-width="0.25" text-rendering="geometricPrecision" textLength="46.0" lengthAdjust="spacingAndGlyphs" >3 Apr 2020</text>
<rect x="1142" y="926" width="1" height="3" fill="#000"/>
<text x="1141" y="938" font-size="10" fill="#000" stroke="#000" stroke-width="0.25" text-rendering="geometricPrecision" textLength="51.2" lengthAdjust="spacingAndGlyphs" >14 Apr 2020</text>
<rect x="1206" y="926" width="1" height="3" fill="#000"/>
<text x="1205" y="938" font-size="10" fill="#000" stroke="#000" stroke-width="0.25" text-rendering="geometricPrecision" textLength="51.2" lengthAdjust="spacingAndGlyphs" >23 Apr 2020</text>
<rect x="1270" y="926" width="1" height="3" fill="#000"/>
<text x="1269" y="938" font-size="10" fill="#000" stroke="#000" stroke-width="0.25" text-rendering="geometricPrecision" textLength="49.1" lengthAdjust="spacingAndGlyphs" >3 May 2020</text>
<rect x="1334" y="926" width="1" height="3" fill="#000"/>
<text x="1333" y="938" font-size="10" fill="#000" stroke="#000" stroke-width="0.25" text-rendering="geometricPrecision" textLength="54.3" lengthAdjust="spacingAndGlyphs" >12 May 2020</text>
</svg></body></html>
